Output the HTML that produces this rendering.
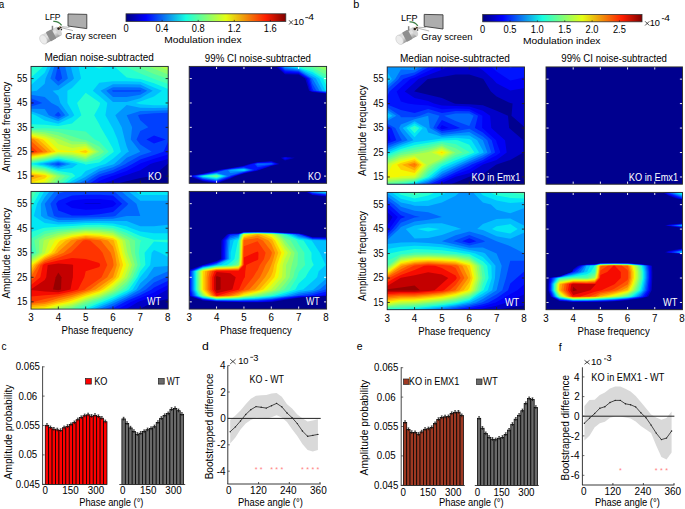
<!DOCTYPE html>
<html><head><meta charset="utf-8"><style>html,body{margin:0;padding:0;background:#fff;width:685px;height:509px;overflow:hidden}svg{display:block}</style></head><body><svg width="685" height="509" viewBox="0 0 685 509" font-family="'Liberation Sans', sans-serif"><rect width="685" height="509" fill="#fff"/><clipPath id="ha1"><rect x="31" y="66.4" width="137.2" height="116.9"/></clipPath>
<g clip-path="url(#ha1)">
<rect x="30" y="65.4" width="139.2" height="118.9" fill="#00008f"/>
<path fill="#0000c8" fill-rule="evenodd" d="M31 66.4L44.7 66.4L58.3 66.4L72 66.4L85.7 66.4L99.3 66.4L113 66.4L126.7 66.4L140.3 66.4L154 66.4L168.2 66.4L168.2 78.6L168.2 90.8L168.2 103L168.2 115.2L168.2 127.3L168.2 139.5L168.2 151.7L168.2 163.7L167.4 163.9L154 175.4L151.7 176.1L140.3 178.1L126.7 181.2L118.7 183.3L113 183.3L99.3 183.3L85.7 183.3L72 183.3L58.3 183.3L44.7 183.3L31 183.3L31 176.1L31 163.9L31 151.7L31 139.5L31 127.3L31 115.2L31 103L31 90.8L31 78.6Z"/>
<path fill="#0000f6" fill-rule="evenodd" d="M31 66.4L44.7 66.4L58.3 66.4L72 66.4L85.7 66.4L99.3 66.4L113 66.4L126.7 66.4L140.3 66.4L154 66.4L168.2 66.4L168.2 78.6L168.2 90.8L168.2 103L168.2 115.2L168.2 127.3L168.2 139.5L168.2 151.7L168.2 159.1L154 162.7L150.3 163.9L140.3 170.3L126.7 174.9L123 176.1L113 179.9L103.9 183.3L99.3 183.3L85.7 183.3L72 183.3L58.3 183.3L44.7 183.3L31 183.3L31 176.1L31 163.9L31 151.7L31 139.5L31 127.3L31 115.2L31 103L31 90.8L31 78.6Z"/>
<path fill="#0014ff" fill-rule="evenodd" d="M31 66.4L44.7 66.4L58.3 66.4L72 66.4L85.7 66.4L99.3 66.4L113 66.4L126.7 66.4L140.3 66.4L154 66.4L168.2 66.4L168.2 78.6L168.2 90.8L168.2 103L168.2 115.2L168.2 127.3L168.2 139.5L168.2 151.7L168.2 154.5L154 158.8L140.3 163.4L139.5 163.9L126.7 171L113 175.8L111.9 176.1L99.3 181.1L95.9 183.3L85.7 183.3L72 183.3L58.3 183.3L44.7 183.3L31 183.3L31 176.1L31 163.9L31 151.7L31 139.5L31 127.3L31 115.2L31 103L31 90.8L31 78.6Z"/>
<path fill="#0040ff" fill-rule="evenodd" d="M31 66.4L44.7 66.4L58.3 66.4L72 66.4L85.7 66.4L99.3 66.4L113 66.4L126.7 66.4L140.3 66.4L154 66.4L168.2 66.4L168.2 78.6L168.2 90.8L168.2 103L168.2 115.2L168.2 127.3L168.2 139.5L168.2 141.6L163.5 151.7L154 154.9L140.3 159.5L132.4 163.9L126.7 167L113 172.9L102.4 176.1L99.3 177.3L90.2 183.3L85.7 183.3L72 183.3L58.3 183.3L44.7 183.3L31 183.3L31 176.1L31 163.9L31 151.7L31 139.5L31 127.3L31 115.2L31 103.9L34.3 103L31 101.6L31 90.8L31 78.6ZM154 135.5L146.4 139.5L154 143.6L165.8 139.5Z"/>
<path fill="#0068ff" fill-rule="evenodd" d="M31 66.4L44.7 66.4L57.7 66.4L55.1 78.6L58.3 81.5L62.2 78.6L59.5 66.4L72 66.4L85.7 66.4L99.3 66.4L113 66.4L126.7 66.4L140.3 66.4L154 66.4L168.2 66.4L168.2 78.6L168.2 90.8L168.2 103L168.2 112.8L154 113.3L140.3 114.5L138 115.2L140.3 120.2L148.3 127.3L140.3 130.9L136.5 139.5L140.3 144.5L151.7 151.7L140.3 155.6L126.7 162.9L125.5 163.9L113 170.1L99.3 174.2L96.1 176.1L85.7 182.7L84.5 183.3L72 183.3L58.3 183.3L44.7 183.3L31 183.3L31 176.1L31 163.9L31 151.7L31 139.5L31 127.3L31 115.2L31 106.4L42.4 103L31 98.2L31 90.8L31 78.6ZM58.3 111.7L54.5 115.2L58.3 116.7L61.1 115.2ZM113 90.2L111.9 90.8L113 91.8L126.7 91.8L140.3 91.5L141.5 90.8L140.3 90.2L126.7 90.2ZM58.3 163.2L54.5 163.9L58.3 164.9L61.6 163.9Z"/>
<path fill="#0094ff" fill-rule="evenodd" d="M31 66.4L44.7 66.4L54.3 66.4L50.4 78.6L58.3 85.7L67.9 78.6L65.2 66.4L72 66.4L85.7 66.4L99.3 66.4L113 66.4L126.7 66.4L140.3 66.4L154 66.4L168.2 66.4L168.2 78.6L168.2 90.8L168.2 103L168.2 110.3L154 110.7L140.3 111.1L126.7 115.2L126.7 115.2L126.7 115.2L132.1 127.3L130.8 139.5L140.3 151.7L126.7 157.8L119.8 163.9L113 167.3L99.3 171.4L91.4 176.1L85.7 179.7L78.8 183.3L72 183.3L58.3 183.3L44.7 183.3L31 183.3L31 176.1L31 163.9L31 151.7L31 139.5L31 127.3L31 115.2L31 108.8L44.7 109.1L48.8 115.2L58.3 119L65.2 115.2L58.3 106.6L51.5 103L44.7 96.9L31 94.8L31 90.8L31 78.6ZM113 87.2L106.2 90.8L113 96.9L126.7 96.9L140.3 94.8L147.2 90.8L140.3 87.4L126.7 87.2ZM58.3 162.1L48.8 163.9L58.3 166.4L66.3 163.9Z"/>
<path fill="#00c0ff" fill-rule="evenodd" d="M31 66.4L44.7 66.4L51 66.4L45.6 78.6L44.7 83.7L36.7 90.8L31 91.5L31 90.8L31 78.6ZM70.9 66.4L72 66.4L85.7 66.4L99.3 66.4L113 66.4L126.7 66.4L140.3 66.4L154 66.4L168.2 66.4L168.2 78.6L168.2 90.8L168.2 103L168.2 107.7L154 108L140.3 107.7L126.7 105L115.3 115.2L121.7 127.3L124.7 139.5L126.7 146.6L128.9 151.7L126.7 152.7L114.1 163.9L113 164.5L99.3 168.5L86.6 176.1L85.7 176.7L73.1 183.3L72 183.3L58.3 183.3L44.7 183.3L31 183.3L31 176.1L31 163.9L31 151.7L31 139.5L31 127.3L31 115.2L31 111.2L42.7 115.2L44.7 116.3L58.3 121.3L69.2 115.2L60.3 103L58.3 95.9L52.6 90.8L58.3 89.9L72 80.6L74 78.6L72 71.5ZM113 84.2L100.5 90.8L113 102L126.7 102L140.3 98.2L152.8 90.8L140.3 84.6L126.7 84.2ZM44.7 163.6L42.9 163.9L44.7 164.3L58.3 167.9L71 163.9L58.3 161Z"/>
<path fill="#02e8f4" fill-rule="evenodd" d="M31 66.4L44.7 66.4L47.6 66.4L44.7 72.8L38.2 78.6L31 85L31 78.6ZM78.5 66.4L85.7 66.4L99.3 66.4L113 66.4L126.7 66.4L140.3 66.4L154 66.4L168.2 66.4L168.2 78.6L168.2 90.8L168.2 103L168.2 105.2L154 105.3L140.3 104.3L135.8 103L140.3 101.6L154 96.6L161.9 90.8L154 87.4L140.3 81.8L126.7 81.2L113 81.2L99.3 82.7L92.8 90.8L99.3 95.9L107.3 103L105.4 115.2L112.1 127.3L113 128.7L117.5 139.5L121 151.7L113 158.8L105.4 163.9L99.3 165.7L85.7 171L81.1 176.1L72 180.9L69 183.3L58.3 183.3L44.7 183.3L31 183.3L31 176.1L31 163.9L31 151.7L31 139.5L31 127.3L31 115.2L31 113.6L35.6 115.2L44.7 120.6L58.3 123.7L72 117.2L74.3 115.2L72 111.1L67.4 103L67.4 90.8L72 87.9L81.1 78.6ZM44.7 162.6L36.6 163.9L44.7 165.5L58.3 169.4L72 168L77.7 163.9L72 162.7L58.3 159.9Z"/>
<path fill="#26ffd1" fill-rule="evenodd" d="M31 66.4L43.3 66.4L31 77.4ZM92.5 66.4L99.3 66.4L106.2 66.4L99.3 68.4ZM114.4 66.4L126.7 66.4L140.3 66.4L154 66.4L168.2 66.4L168.2 78.6L168.2 89L154 83.2L140.3 78.9L133.5 78.6L126.7 77.4ZM77.1 103L85.7 92.8L99.3 102.2L100.2 103L99.3 106L94.2 115.2L99.3 124.3L100.7 127.3L107.9 139.5L113 148.7L113.8 151.7L113 152.5L99.3 162.6L89.1 163.9L85.7 164.7L84.8 163.9L72 161.1L58.3 158.8L44.7 161.6L31 163.8L31 151.7L31 139.5L31 127.3L31 124.3L44.7 124.8L58.3 126L72 123.5L81.4 115.2ZM31 176.1L31 164.1L44.7 166.7L58.3 170.9L72 173.1L75.4 176.1L72 177.9L65.2 183.3L58.3 183.3L44.7 183.3L31 183.3Z"/>
<path fill="#49ffad" fill-rule="evenodd" d="M31 66.4L31.9 66.4L31 67.2ZM125.7 66.4L126.7 66.4L140.3 66.4L154 66.4L168.2 66.4L168.2 78.6L168.2 83.9L154 78.9L152.8 78.6L140.3 73.6L126.7 67.2ZM31 139.5L31 128.5L44.7 128.2L58.3 128.7L72 129.9L85.7 131.4L94.8 139.5L99.3 141.6L108.8 151.7L99.3 159L85.7 162.5L72 159.6L58.3 157.6L44.7 160.6L31 162.8L31 151.7ZM31 176.1L31 165.4L44.7 167.9L58.3 172.4L70.1 176.1L61.4 183.3L58.3 183.3L44.7 183.3L31 183.3Z"/>
<path fill="#6aff8d" fill-rule="evenodd" d="M137.1 66.4L140.3 66.4L154 66.4L168.2 66.4L168.2 78.6L168.2 78.8L167.6 78.6L154 73.9L140.3 68ZM31 139.5L31 129.7L44.7 130.2L58.3 132.1L72 136.2L81.9 139.5L85.7 139.9L99.3 146.6L104.1 151.7L99.3 155.4L85.7 160.9L72 158.1L58.3 156.5L44.7 159.6L31 161.8L31 151.7ZM31 176.1L31 166.7L44.7 169.1L58.3 173.9L65.4 176.1L58.3 182.4L57.6 183.3L44.7 183.3L31 183.3Z"/>
<path fill="#8dff6a" fill-rule="evenodd" d="M148.5 66.4L154 66.4L168.2 66.4L168.2 74.5L154 68.8ZM31 139.5L31 131L44.7 132.2L58.3 135.5L68.1 139.5L72 141.2L85.7 142L99.3 151.7L85.7 159.3L72 156.5L58.3 155.4L44.7 158.6L31 160.8L31 151.7ZM31 176.1L31 168L44.7 170.3L58.3 175.4L60.6 176.1L58.3 178.2L53.8 183.3L44.7 183.3L31 183.3Z"/>
<path fill="#b1ff46" fill-rule="evenodd" d="M159.1 66.4L168.2 66.4L168.2 70.3ZM31 139.5L31 132.3L44.7 134.3L58.3 138.9L60 139.5L72 144.6L85.7 144L96.5 151.7L85.7 157.8L72 155L58.3 154.3L44.7 157.5L31 159.8L31 151.7ZM31 176.1L31 169.3L44.7 171.5L56.7 176.1L50 183.3L44.7 183.3L31 183.3Z"/>
<path fill="#d1ff26" fill-rule="evenodd" d="M31 139.5L31 133.5L44.7 136.3L53.8 139.5L58.3 144.1L72 147.9L85.7 146L93.6 151.7L85.7 156.2L72 153.5L58.3 153.2L44.7 156.5L31 158.8L31 151.7ZM31 176.1L31 170.6L44.7 172.7L53.5 176.1L46.2 183.3L44.7 183.3L31 183.3Z"/>
<path fill="#f4f802" fill-rule="evenodd" d="M31 139.5L31 134.8L44.7 138.3L48.1 139.5L58.3 149.7L72 151.3L85.7 148.1L90.8 151.7L85.7 154.6L72 151.9L58.3 152.1L44.7 155.5L31 157.8L31 151.7ZM31 176.1L31 171.9L44.7 173.9L50.4 176.1L44.7 181.5L39 183.3L31 183.3Z"/>
<path fill="#ffd000" fill-rule="evenodd" d="M31 139.5L31 136.1L42.9 139.5L44.7 141.1L55.7 151.7L44.7 154.5L31 156.8L31 151.7ZM79.2 151.7L85.7 150.1L87.9 151.7L85.7 153ZM31 176.1L31 173.2L44.7 175.1L47.2 176.1L44.7 178.5L31 182.8Z"/>
<path fill="#ffab00" fill-rule="evenodd" d="M31 139.5L31 137.4L38.5 139.5L44.7 145L51.7 151.7L44.7 153.5L31 155.8L31 151.7ZM31 176.1L31 174.5L42.8 176.1L31 179.8Z"/>
<path fill="#ff8200" fill-rule="evenodd" d="M31 139.5L31 138.6L34.2 139.5L44.7 148.9L47.6 151.7L44.7 152.5L31 154.8L31 151.7ZM31 176.1L31 175.8L33.3 176.1L31 176.8Z"/>
<path fill="#ff5900" fill-rule="evenodd" d="M31 151.7L31 141L43.1 151.7L31 153.8Z"/>
<path fill="#ff3400" fill-rule="evenodd" d="M31 151.7L31 146L37.4 151.7L31 152.8Z"/>
<path fill="#f60b00" fill-rule="evenodd" d="M31 151.7L31 151.1L31.7 151.7L31 151.8Z"/>
</g>
<line x1="58.33" y1="183.30" x2="58.33" y2="180.70" stroke="#222" stroke-width="0.9"/>
<line x1="58.33" y1="66.40" x2="58.33" y2="69.00" stroke="#222" stroke-width="0.9"/>
<line x1="85.66" y1="183.30" x2="85.66" y2="180.70" stroke="#222" stroke-width="0.9"/>
<line x1="85.66" y1="66.40" x2="85.66" y2="69.00" stroke="#222" stroke-width="0.9"/>
<line x1="112.99" y1="183.30" x2="112.99" y2="180.70" stroke="#222" stroke-width="0.9"/>
<line x1="112.99" y1="66.40" x2="112.99" y2="69.00" stroke="#222" stroke-width="0.9"/>
<line x1="140.32" y1="183.30" x2="140.32" y2="180.70" stroke="#222" stroke-width="0.9"/>
<line x1="140.32" y1="66.40" x2="140.32" y2="69.00" stroke="#222" stroke-width="0.9"/>
<line x1="31.00" y1="176.11" x2="33.60" y2="176.11" stroke="#222" stroke-width="0.9"/>
<line x1="168.20" y1="176.11" x2="165.60" y2="176.11" stroke="#222" stroke-width="0.9"/>
<line x1="31.00" y1="151.73" x2="33.60" y2="151.73" stroke="#222" stroke-width="0.9"/>
<line x1="168.20" y1="151.73" x2="165.60" y2="151.73" stroke="#222" stroke-width="0.9"/>
<line x1="31.00" y1="127.35" x2="33.60" y2="127.35" stroke="#222" stroke-width="0.9"/>
<line x1="168.20" y1="127.35" x2="165.60" y2="127.35" stroke="#222" stroke-width="0.9"/>
<line x1="31.00" y1="102.97" x2="33.60" y2="102.97" stroke="#222" stroke-width="0.9"/>
<line x1="168.20" y1="102.97" x2="165.60" y2="102.97" stroke="#222" stroke-width="0.9"/>
<line x1="31.00" y1="78.59" x2="33.60" y2="78.59" stroke="#222" stroke-width="0.9"/>
<line x1="168.20" y1="78.59" x2="165.60" y2="78.59" stroke="#222" stroke-width="0.9"/>
<rect x="31.00" y="66.40" width="137.20" height="116.90" fill="none" stroke="#2a2a2a" stroke-width="0.9"/>
<text x="148.04" y="179.60" font-size="10" textLength="13.41" lengthAdjust="spacingAndGlyphs" fill="#fff">KO</text>
<clipPath id="ha2"><rect x="189.2" y="66.4" width="137.4" height="116.9"/></clipPath>
<g clip-path="url(#ha2)">
<rect x="188.2" y="65.4" width="139.4" height="118.9" fill="#00008f"/>
<path fill="#0000c8" fill-rule="evenodd" d="M276.2 66.4L285 66.4L298.7 66.4L312.4 66.4L326.6 66.4L326.6 78.6L326.6 90.8L326.6 93.6L312.4 91.9L309.1 90.8L305.2 78.6L298.7 74.5L285 74.3ZM280.8 157.8L285 157.2L294.9 157.8L285 160.5ZM249.5 163.9L257.6 162.2L271.3 161.1L279.5 163.9L271.3 165.9L259.2 170L257.6 170.6L243.9 173.6L235.7 176.1L230.3 178.4L216.9 183.3L216.6 183.3L215.8 183.3L202.9 181.2L189.2 176.2L189.2 176.1L189.2 176.1L202.9 173.8L216.6 170.5L218.5 170L230.3 168.3L243.9 165.7Z"/>
<path fill="#0000f6" fill-rule="evenodd" d="M277.6 66.4L285 66.4L298.7 66.4L312.4 66.4L326.6 66.4L326.6 78.6L326.6 90.8L326.6 93.2L312.4 91.5L310.3 90.8L306.7 78.6L298.7 73.6L285 73ZM282.4 157.8L285 157.5L291.1 157.8L285 159.4ZM251.1 163.9L257.6 162.6L271.3 161.7L277.8 163.9L271.3 165.5L258.1 170L257.6 170.2L243.9 173.1L234.2 176.1L230.3 177.8L216.6 182.8L202.9 180.6L190.6 176.1L202.9 174.1L216.6 171L220.4 170L230.3 168.5L243.9 166.2Z"/>
<path fill="#0014ff" fill-rule="evenodd" d="M279 66.4L285 66.4L298.7 66.4L312.4 66.4L326.6 66.4L326.6 78.6L326.6 90.8L326.6 92.8L312.4 91L311.6 90.8L308.1 78.6L298.7 72.7L285 71.7ZM284 157.8L285 157.7L287.3 157.8L285 158.4ZM252.7 163.9L257.6 162.9L271.3 162.2L276.2 163.9L271.3 165.1L257.6 169L256.4 170L243.9 172.7L232.8 176.1L230.3 177.2L216.6 182.1L202.9 179.9L192.3 176.1L202.9 174.3L216.6 171.5L222.3 170L230.3 168.8L243.9 166.8Z"/>
<path fill="#0040ff" fill-rule="evenodd" d="M280.4 66.4L285 66.4L298.7 66.4L312.4 66.4L326.6 66.4L326.6 78.6L326.6 90.8L326.6 92.4L313.6 90.8L312.4 88.7L309.5 78.6L298.7 71.8L285 70.5ZM254.4 163.9L257.6 163.2L271.3 162.8L274.6 163.9L271.3 164.7L257.6 167.3ZM224.2 170L230.3 169.1L243.9 167.3L254.4 170L243.9 172.3L231.4 176.1L230.3 176.6L216.6 181.4L202.9 179.3L194 176.1L202.9 174.6L216.6 172Z"/>
<path fill="#0068ff" fill-rule="evenodd" d="M281.9 66.4L285 66.4L298.7 66.4L312.4 66.4L326.6 66.4L326.6 78.6L326.6 90.8L326.6 92.1L316.5 90.8L312.4 83.7L310.9 78.6L298.7 70.9L285 69.2ZM256 163.9L257.6 163.6L271.3 163.4L272.9 163.9L271.3 164.3L257.6 165.6ZM226.1 170L230.3 169.4L243.9 167.8L252.3 170L243.9 171.8L230.3 175.6L229.9 176.1L216.6 180.8L202.9 178.7L195.8 176.1L202.9 174.9L216.6 172.6Z"/>
<path fill="#0094ff" fill-rule="evenodd" d="M283.3 66.4L285 66.4L298.7 66.4L312.4 66.4L326.6 66.4L326.6 78.6L326.6 90.8L326.6 91.7L319.5 90.8L312.4 78.6L312.4 78.6L298.7 70L285 67.9ZM228 170L230.3 169.7L243.9 168.4L250.3 170L243.9 171.4L230.3 173.1ZM197.5 176.1L202.9 175.2L216.6 173.1L228 176.1L216.6 180.1L202.9 178.1Z"/>
<path fill="#00c0ff" fill-rule="evenodd" d="M284.7 66.4L285 66.4L298.7 66.4L312.4 66.4L326.6 66.4L326.6 78.6L326.6 90.8L326.6 91.3L322.4 90.8L315.9 78.6L312.4 76.4L298.7 69.1L285 66.7ZM229.9 170L230.3 170L243.9 168.9L248.3 170L243.9 170.9L230.3 170.5ZM199.2 176.1L202.9 175.5L216.6 173.6L226.1 176.1L216.6 179.4L202.9 177.4Z"/>
<path fill="#02e8f4" fill-rule="evenodd" d="M288.8 66.4L298.7 66.4L312.4 66.4L326.6 66.4L326.6 78.6L326.6 90.8L326.6 90.9L325.4 90.8L319.3 78.6L312.4 74.2L298.7 68.3ZM236 170L243.9 169.4L246.2 170L243.9 170.5ZM200.9 176.1L202.9 175.8L216.6 174.1L224.2 176.1L216.6 178.8L202.9 176.8Z"/>
<path fill="#26ffd1" fill-rule="evenodd" d="M293.6 66.4L298.7 66.4L312.4 66.4L326.6 66.4L326.6 78.6L326.6 86.4L322.8 78.6L312.4 72L298.7 67.4ZM243.1 170L243.9 169.9L244.2 170L243.9 170.1ZM202.7 176.1L202.9 176.1L216.6 174.6L222.3 176.1L216.6 178.1L202.9 176.2Z"/>
<path fill="#49ffad" fill-rule="evenodd" d="M298.3 66.4L298.7 66.4L312.4 66.4L326.6 66.4L326.6 78.6L326.6 79.2L326.3 78.6L312.4 69.8L298.7 66.5ZM207.1 176.1L216.6 175.1L220.4 176.1L216.6 177.4Z"/>
<path fill="#6aff8d" fill-rule="evenodd" d="M307.4 66.4L312.4 66.4L326.6 66.4L326.6 75L312.4 67.5ZM211.8 176.1L216.6 175.6L218.5 176.1L216.6 176.8Z"/>
<path fill="#8dff6a" fill-rule="evenodd" d="M316.4 66.4L326.6 66.4L326.6 71.1Z"/>
<path fill="#b1ff46" fill-rule="evenodd" d="M324.9 66.4L326.6 66.4L326.6 67.2Z"/>
</g>
<line x1="216.57" y1="183.30" x2="216.57" y2="180.70" stroke="#fff" stroke-width="0.9"/>
<line x1="216.57" y1="66.40" x2="216.57" y2="69.00" stroke="#fff" stroke-width="0.9"/>
<line x1="243.94" y1="183.30" x2="243.94" y2="180.70" stroke="#fff" stroke-width="0.9"/>
<line x1="243.94" y1="66.40" x2="243.94" y2="69.00" stroke="#fff" stroke-width="0.9"/>
<line x1="271.31" y1="183.30" x2="271.31" y2="180.70" stroke="#fff" stroke-width="0.9"/>
<line x1="271.31" y1="66.40" x2="271.31" y2="69.00" stroke="#fff" stroke-width="0.9"/>
<line x1="298.68" y1="183.30" x2="298.68" y2="180.70" stroke="#fff" stroke-width="0.9"/>
<line x1="298.68" y1="66.40" x2="298.68" y2="69.00" stroke="#fff" stroke-width="0.9"/>
<line x1="189.20" y1="176.11" x2="191.80" y2="176.11" stroke="#fff" stroke-width="0.9"/>
<line x1="326.60" y1="176.11" x2="324.00" y2="176.11" stroke="#fff" stroke-width="0.9"/>
<line x1="189.20" y1="151.73" x2="191.80" y2="151.73" stroke="#fff" stroke-width="0.9"/>
<line x1="326.60" y1="151.73" x2="324.00" y2="151.73" stroke="#fff" stroke-width="0.9"/>
<line x1="189.20" y1="127.35" x2="191.80" y2="127.35" stroke="#fff" stroke-width="0.9"/>
<line x1="326.60" y1="127.35" x2="324.00" y2="127.35" stroke="#fff" stroke-width="0.9"/>
<line x1="189.20" y1="102.97" x2="191.80" y2="102.97" stroke="#fff" stroke-width="0.9"/>
<line x1="326.60" y1="102.97" x2="324.00" y2="102.97" stroke="#fff" stroke-width="0.9"/>
<line x1="189.20" y1="78.59" x2="191.80" y2="78.59" stroke="#fff" stroke-width="0.9"/>
<line x1="326.60" y1="78.59" x2="324.00" y2="78.59" stroke="#fff" stroke-width="0.9"/>
<rect x="189.20" y="66.40" width="137.40" height="116.90" fill="none" stroke="#2a2a2a" stroke-width="0.9"/>
<text x="307.97" y="180.40" font-size="10" textLength="12.86" lengthAdjust="spacingAndGlyphs" fill="#fff">KO</text>
<clipPath id="ha3"><rect x="31" y="191.4" width="137.2" height="117.7"/></clipPath>
<g clip-path="url(#ha3)">
<rect x="30" y="190.4" width="139.2" height="119.7" fill="#00008f"/>
<path fill="#0000c8" fill-rule="evenodd" d="M31 191.4L44.7 191.4L58.3 191.4L72 191.4L85.7 191.4L99.3 191.4L113 191.4L126.7 191.4L140.3 191.4L154 191.4L168.2 191.4L168.2 203.7L168.2 215.9L168.2 228.2L168.2 240.5L168.2 252.8L168.2 265L168.2 277.3L168.2 289.6L168.2 299L154 301.7L153.2 301.9L140.3 308.7L139.8 309.1L126.7 309.1L113 309.1L99.3 309.1L85.7 309.1L72 309.1L58.3 309.1L44.7 309.1L31 309.1L31 301.9L31 289.6L31 277.3L31 265L31 252.8L31 240.5L31 228.2L31 215.9L31 203.7Z"/>
<path fill="#0000f6" fill-rule="evenodd" d="M31 191.4L44.7 191.4L58.3 191.4L72 191.4L85.7 191.4L99.3 191.4L113 191.4L126.7 191.4L140.3 191.4L154 191.4L168.2 191.4L168.2 203.7L168.2 215.9L168.2 228.2L168.2 240.5L168.2 252.8L168.2 265L168.2 277.3L168.2 289.2L167.5 289.6L154 297L140.3 300.9L138 301.9L126.7 308.8L126 309.1L113 309.1L99.3 309.1L85.7 309.1L72 309.1L58.3 309.1L44.7 309.1L31 309.1L31 301.9L31 289.6L31 277.3L31 265L31 252.8L31 240.5L31 228.2L31 215.9L31 203.7ZM85.7 203.3L83.4 203.7L85.7 204.1L99.3 204.1L101.6 203.7L99.3 203.3Z"/>
<path fill="#0014ff" fill-rule="evenodd" d="M31 191.4L44.7 191.4L58.3 191.4L72 191.4L85.7 191.4L99.3 191.4L113 191.4L126.7 191.4L140.3 191.4L154 191.4L168.2 191.4L168.2 203.7L168.2 215.9L168.2 228.2L168.2 240.5L168.2 252.8L168.2 265L168.2 277.3L168.2 285L159.1 289.6L154 292.4L140.3 298.1L130.9 301.9L126.7 304.4L117.9 309.1L113 309.1L99.3 309.1L85.7 309.1L72 309.1L58.3 309.1L44.7 309.1L31 309.1L31 301.9L31 289.6L31 277.3L31 265L31 252.8L31 240.5L31 228.2L31 215.9L31 203.7ZM72 200.6L65.2 203.7L72 208.1L85.7 209.8L99.3 209.2L113 206.7L116.4 203.7L113 200.6L99.3 199.1L85.7 199.1Z"/>
<path fill="#0040ff" fill-rule="evenodd" d="M31 191.4L44.7 191.4L58.3 191.4L72 191.4L85.7 191.4L99.3 191.4L113 191.4L126.7 191.4L140.3 191.4L154 191.4L168.2 191.4L168.2 203.7L168.2 215.9L168.2 228.2L168.2 240.5L168.2 252.8L168.2 265L168.2 277.3L168.2 280.7L154 287.5L151.7 289.6L140.3 295.3L126.7 301L124.9 301.9L113 308.2L110.7 309.1L99.3 309.1L85.7 309.1L72 309.1L58.3 309.1L44.7 309.1L31 309.1L31 301.9L31 289.6L31 277.3L31 265L31 252.8L31 240.5L31 228.2L31 215.9L31 203.7ZM58.3 200.8L56.1 203.7L58.3 210.5L72 215.4L85.7 215.5L99.3 214.3L113 211.9L122.1 203.7L113 195.5L99.3 194.8L85.7 194.8L72 195.5Z"/>
<path fill="#0068ff" fill-rule="evenodd" d="M31 191.4L44.7 191.4L58.3 191.4L66.3 191.4L58.3 193.4L50.4 203.7L54 215.9L58.3 217.5L72 217.8L85.7 217.6L99.3 217.2L113 216.4L115.3 215.9L126.7 205.7L128.3 203.7L126.7 202.4L114.4 191.4L126.7 191.4L140.3 191.4L154 191.4L168.2 191.4L168.2 203.7L168.2 215.9L168.2 228.2L168.2 240.5L168.2 252.8L168.2 265L168.2 276.3L165.8 277.3L154 282.4L146 289.6L140.3 292.4L126.7 299L120.5 301.9L113 305.9L105 309.1L99.3 309.1L85.7 309.1L72 309.1L58.3 309.1L44.7 309.1L31 309.1L31 301.9L31 289.6L31 277.3L31 265L31 252.8L31 240.5L31 228.2L31 215.9L31 203.7Z"/>
<path fill="#0094ff" fill-rule="evenodd" d="M31 191.4L44.7 191.4L54.6 191.4L44.7 203.7L44.7 203.7L44.7 203.7L47.7 215.9L58.3 219.9L72 219.9L85.7 219.5L99.3 219.1L113 218.7L126.7 215.9L140.3 215.9L154 215.9L154 215.9L154 215.9L140.3 215.9L136.4 203.7L126.7 196L121.5 191.4L126.7 191.4L140.3 191.4L154 191.4L168.2 191.4L168.2 203.7L168.2 215.9L168.2 228.2L168.2 240.5L168.2 252.8L168.2 265L168.2 271.2L154 277.3L154 277.3L140.3 289.6L140.3 289.6L126.7 296.9L116.1 301.9L113 303.5L99.3 309.1L99.3 309.1L85.7 309.1L72 309.1L58.3 309.1L44.7 309.1L31 309.1L31 301.9L31 289.6L31 277.3L31 265L31 252.8L31 240.5L31 228.2L31 215.9L31 203.7Z"/>
<path fill="#00c0ff" fill-rule="evenodd" d="M31 191.4L44.7 191.4L49.4 191.4L44.7 197.3L40.9 203.7L41 215.9L44.7 218.4L58.3 222.2L72 221.9L85.7 221.3L99.3 221L113 221.1L126.7 221.1L140.3 226.2L154 226.2L168.2 224.8L168.2 228.2L168.2 240.5L168.2 252.8L168.2 265L168.2 266.1L154 267.1L146.9 277.3L140.3 283.2L136.5 289.6L126.7 294.9L113 301.3L111.7 301.9L99.3 307.1L94.6 309.1L85.7 309.1L72 309.1L58.3 309.1L44.7 309.1L31 309.1L31 301.9L31 289.6L31 277.3L31 265L31 252.8L31 240.5L31 228.2L31 215.9L31 203.7ZM128.7 191.4L140.3 191.4L154 191.4L168.2 191.4L168.2 200.7L154 200.7L140.3 200.7Z"/>
<path fill="#02e8f4" fill-rule="evenodd" d="M31 191.4L44.3 191.4L37.1 203.7L33.8 215.9L44.7 223L58.3 224.5L72 224L85.7 223.1L99.3 222.9L113 223.4L126.7 226.2L131.2 228.2L140.3 231.6L154 233.3L168.2 233.3L168.2 240.5L168.2 252.8L168.2 256.9L160.3 252.8L154 250L151.7 252.8L150.2 265L140.3 276.9L140.1 277.3L132.7 289.6L126.7 292.9L113 299.4L106.9 301.9L99.3 305.1L89.8 309.1L85.7 309.1L72 309.1L58.3 309.1L44.7 309.1L31 309.1L31 301.9L31 289.6L31 277.3L31 265L31 252.8L31 240.5L31 228.2L31 215.9L31 203.7ZM135.8 191.4L140.3 191.4L154 191.4L168.2 191.4L168.2 195L154 195L140.3 195Z"/>
<path fill="#26ffd1" fill-rule="evenodd" d="M31 191.4L40.3 191.4L33.3 203.7L31 209.8L31 203.7ZM42.4 228.2L44.7 227.7L58.3 226.8L72 226L85.7 224.9L99.3 224.8L113 225.7L121.8 228.2L126.7 230L140.3 235.9L154 239.7L168.2 239.7L168.2 240.5L168.2 242.5L154 241.5L144.6 252.8L145.4 265L140.3 271.2L137.5 277.3L128.9 289.6L126.7 290.8L113 297.5L102.2 301.9L99.3 303.1L85.7 308.8L84.8 309.1L72 309.1L58.3 309.1L44.7 309.1L31 309.1L31 301.9L31 289.6L31 277.3L31 265L31 252.8L31 240.5L31 232.1Z"/>
<path fill="#49ffad" fill-rule="evenodd" d="M31 191.4L36.2 191.4L31 200.8ZM69.7 228.2L72 228.1L85.7 226.8L99.3 226.7L113 228L113.6 228.2L126.7 233L140.3 240.2L141.5 240.5L140.3 242.5L138.8 252.8L140.3 263L140.7 265L140.3 265.5L134.9 277.3L126.7 288.2L125.1 289.6L113 295.6L99.3 301.2L97 301.9L85.7 306.5L77.7 309.1L72 309.1L58.3 309.1L44.7 309.1L31 309.1L31 301.9L31 289.6L31 277.3L31 265L31 254.4L33.5 252.8L31 243.8L31 240.5L31 238.4L44.7 230.9L58.3 229Z"/>
<path fill="#6aff8d" fill-rule="evenodd" d="M31 191.4L32.1 191.4L31 193.4ZM34.2 240.5L44.7 233.9L58.3 231.1L72 229.6L85.7 228.5L99.3 228.5L113 229.8L126.7 236L135.1 240.5L135 252.8L137.7 265L132.4 277.3L126.7 284.8L121.3 289.6L113 293.8L99.3 299.6L91.4 301.9L85.7 304.2L72 308.8L70.4 309.1L58.3 309.1L44.7 309.1L31 309.1L31 301.9L31 289.6L31 277.3L31 265L31 256.3L36.4 252.8Z"/>
<path fill="#8dff6a" fill-rule="evenodd" d="M39 240.5L44.7 236.9L58.3 233.1L72 231.1L85.7 229.8L99.3 230L113 231.5L126.7 239L129.4 240.5L131.2 252.8L134.9 265L129.8 277.3L126.7 281.4L117.5 289.6L113 291.9L99.3 298L85.7 301.9L85.7 301.9L72 307.2L62.2 309.1L58.3 309.1L44.7 309.1L31 309.1L31 301.9L31 289.6L31 277.3L31 265L31 258.2L39.2 252.8Z"/>
<path fill="#b1ff46" fill-rule="evenodd" d="M43.7 240.5L44.7 239.9L58.3 235.2L72 232.6L85.7 231L99.3 231.4L113 233.2L125.2 240.5L126.7 249.4L127.4 252.8L132 265L127.2 277.3L126.7 278L113.8 289.6L113 290L99.3 296.4L85.7 300.3L81.6 301.9L72 305.6L58.3 308.3L55.6 309.1L44.7 309.1L31 309.1L31 301.9L31 289.6L31 277.3L31 265L31 260.1L42 252.8Z"/>
<path fill="#d1ff26" fill-rule="evenodd" d="M49.2 240.5L58.3 237.2L72 234.1L85.7 232.3L99.3 232.9L113 234.9L122.3 240.5L124.7 252.8L126.7 258.6L129.2 265L126.7 271.5L124.4 277.3L113 287.5L110.3 289.6L99.3 294.8L85.7 298.8L77.5 301.9L72 304L58.3 306.8L50.5 309.1L44.7 309.1L31 309.1L31 301.9L31 289.6L31 277.3L31 265L31 262L44.7 252.9L44.9 252.8Z"/>
<path fill="#f4f802" fill-rule="evenodd" d="M54.9 240.5L58.3 239.3L72 235.6L85.7 233.6L99.3 234.4L113 236.6L119.5 240.5L122.2 252.8L126.3 265L121.5 277.3L113 285L107 289.6L99.3 293.2L85.7 297.2L73.5 301.9L72 302.4L58.3 305.3L45.3 309.1L44.7 309.1L31 309.1L31 301.9L31 289.6L31 277.3L31 265L31 263.9L44.7 254.4L48.1 252.8Z"/>
<path fill="#ffd000" fill-rule="evenodd" d="M60.4 240.5L72 237.1L85.7 234.9L99.3 235.8L113 238.3L116.6 240.5L119.7 252.8L123.1 265L118.7 277.3L113 282.4L103.6 289.6L99.3 291.6L85.7 295.7L72 300.6L67.4 301.9L58.3 303.8L44.7 307.5L31 308.5L31 301.9L31 289.6L31 277.3L31 266.4L31.9 265L44.7 256L51.2 252.8L58.3 242.4Z"/>
<path fill="#ffab00" fill-rule="evenodd" d="M65.6 240.5L72 238.6L85.7 236.1L99.3 237.3L113 240L113.8 240.5L117.3 252.8L120 265L115.8 277.3L113 279.9L100.3 289.6L99.3 290L85.7 294.1L72 298.8L60.3 301.9L58.3 302.3L44.7 305.8L31 306.9L31 301.9L31 289.6L31 277.3L31 269.8L34.1 265L44.7 257.5L54.4 252.8L58.3 247Z"/>
<path fill="#ff8200" fill-rule="evenodd" d="M70.8 240.5L72 240.1L85.7 237.4L99.3 238.7L107.9 240.5L113 246.6L114.8 252.8L116.8 265L113 277.3L113 277.3L99.3 286.8L95.6 289.6L85.7 292.6L72 296.9L58.3 300.4L53.2 301.9L44.7 304L31 305.3L31 301.9L31 289.6L31 277.3L31 273.2L36.3 265L44.7 259.1L57.6 252.8L58.3 251.7Z"/>
<path fill="#ff5900" fill-rule="evenodd" d="M76.8 240.5L85.7 238.7L99.3 240.2L100.8 240.5L110.7 252.8L113 259.9L113.6 265L113 267.1L107.3 277.3L99.3 282.8L90.4 289.6L85.7 291L72 295L58.3 298.3L46.1 301.9L44.7 302.2L31 303.7L31 301.9L31 289.6L31 277.3L31 276.6L38.4 265L44.7 260.6L58.3 254.9L63.7 252.8L72 245.4Z"/>
<path fill="#ff3400" fill-rule="evenodd" d="M83.1 240.5L85.7 240L90.2 240.5L99.3 248.7L102.6 252.8L107.3 265L101.6 277.3L99.3 278.9L85.7 288.6L85.1 289.6L72 293.1L58.3 296.3L44.7 298.9L33.3 301.9L31 302.1L31 301.9L31 289.6L31 280.7L35.1 277.3L40.6 265L44.7 262.2L58.3 257.8L70.9 252.8L72 251.7Z"/>
<path fill="#f60b00" fill-rule="evenodd" d="M42.8 265L44.7 263.7L58.3 260.6L72 258.1L85.7 258.9L99.3 263L100.2 265L99.3 267.1L85.7 271.2L84.3 277.3L78 289.6L72 291.2L58.3 294.2L44.7 295.3L31 296.5L31 289.6L31 285L40.3 277.3Z"/>
<path fill="#c40000" fill-rule="evenodd" d="M47.7 265L58.3 263.4L72 264.5L73.1 265L72.9 277.3L72 281.4L70.5 289.6L58.3 292.2L44.7 291.6L31 290.1L31 289.6L31 289.2L44.7 280L46.2 277.3Z"/>
<path fill="#960000" fill-rule="evenodd" d="M55.7 277.3L58.3 272.5L61.5 277.3L61 289.6L58.3 290.2L53 289.6Z"/>
</g>
<line x1="58.33" y1="309.10" x2="58.33" y2="306.50" stroke="#222" stroke-width="0.9"/>
<line x1="58.33" y1="191.40" x2="58.33" y2="194.00" stroke="#222" stroke-width="0.9"/>
<line x1="85.66" y1="309.10" x2="85.66" y2="306.50" stroke="#222" stroke-width="0.9"/>
<line x1="85.66" y1="191.40" x2="85.66" y2="194.00" stroke="#222" stroke-width="0.9"/>
<line x1="112.99" y1="309.10" x2="112.99" y2="306.50" stroke="#222" stroke-width="0.9"/>
<line x1="112.99" y1="191.40" x2="112.99" y2="194.00" stroke="#222" stroke-width="0.9"/>
<line x1="140.32" y1="309.10" x2="140.32" y2="306.50" stroke="#222" stroke-width="0.9"/>
<line x1="140.32" y1="191.40" x2="140.32" y2="194.00" stroke="#222" stroke-width="0.9"/>
<line x1="31.00" y1="301.86" x2="33.60" y2="301.86" stroke="#222" stroke-width="0.9"/>
<line x1="168.20" y1="301.86" x2="165.60" y2="301.86" stroke="#222" stroke-width="0.9"/>
<line x1="31.00" y1="277.31" x2="33.60" y2="277.31" stroke="#222" stroke-width="0.9"/>
<line x1="168.20" y1="277.31" x2="165.60" y2="277.31" stroke="#222" stroke-width="0.9"/>
<line x1="31.00" y1="252.77" x2="33.60" y2="252.77" stroke="#222" stroke-width="0.9"/>
<line x1="168.20" y1="252.77" x2="165.60" y2="252.77" stroke="#222" stroke-width="0.9"/>
<line x1="31.00" y1="228.22" x2="33.60" y2="228.22" stroke="#222" stroke-width="0.9"/>
<line x1="168.20" y1="228.22" x2="165.60" y2="228.22" stroke="#222" stroke-width="0.9"/>
<line x1="31.00" y1="203.67" x2="33.60" y2="203.67" stroke="#222" stroke-width="0.9"/>
<line x1="168.20" y1="203.67" x2="165.60" y2="203.67" stroke="#222" stroke-width="0.9"/>
<rect x="31.00" y="191.40" width="137.20" height="117.70" fill="none" stroke="#2a2a2a" stroke-width="0.9"/>
<text x="146.96" y="305.20" font-size="10" textLength="13.95" lengthAdjust="spacingAndGlyphs" fill="#fff">WT</text>
<clipPath id="ha4"><rect x="189.2" y="191.4" width="137.4" height="117.7"/></clipPath>
<g clip-path="url(#ha4)">
<rect x="188.2" y="190.4" width="139.4" height="119.7" fill="#00008f"/>
<path fill="#0000c8" fill-rule="evenodd" d="M305.3 191.4L312.4 191.4L326.6 191.4L326.6 196.4L312.4 194.9ZM227 234.4L230.3 233.8L238.5 233.5L243.9 232.2L257.6 231.9L271.3 232.2L285 232.8L298.7 233.5L304.1 234.4L312.4 237.2L326.6 237.3L326.6 240.5L326.6 252.8L326.6 258.9L326.6 265L326.6 271.2L326.6 277.3L326.6 289.6L326.6 295.7L326.6 296L312.4 296.3L298.7 297.7L285 299.7L272.1 301.9L271.3 301.9L257.6 302.2L243.9 302.2L238.5 302.1L230.3 301.9L228 301.9L216.6 301.6L202.9 300.4L189.2 295.9L189.2 295.7L189.2 289.6L189.2 277.3L189.2 271.2L189.2 270L202.4 265L202.9 265L216.6 261.1L221.1 258.9L221.1 252.8L221.4 240.5Z"/>
<path fill="#0000f6" fill-rule="evenodd" d="M306.4 191.4L312.4 191.4L326.6 191.4L326.6 195.9L312.4 194.4ZM228.2 234.4L230.3 234L238.5 233.8L243.9 232.3L257.6 232.1L271.3 232.3L285 233L298.7 233.8L302.7 234.4L312.4 237.6L326.6 237.8L326.6 240.5L326.6 252.8L326.6 258.9L326.6 265L326.6 271.2L326.6 277.3L326.6 289.6L326.6 295.7L326.6 295.8L312.4 296.1L298.7 297.2L285 299L271.3 301.3L262.2 301.9L257.6 302L243.9 302L239.4 301.9L238.5 301.8L230.3 301.6L216.6 301.3L202.9 300L190.2 295.7L189.2 291.6L189.2 289.6L189.2 277.3L189.2 271.2L189.2 270.8L202.9 265.4L204.7 265L216.6 261.7L222.4 258.9L222.4 252.8L222.8 240.5Z"/>
<path fill="#0014ff" fill-rule="evenodd" d="M307.6 191.4L312.4 191.4L326.6 191.4L326.6 195.3L312.4 193.8ZM229.5 234.4L230.3 234.2L238.5 234L243.9 232.5L257.6 232.2L271.3 232.5L285 233.2L298.7 234L301.2 234.4L312.4 238.1L326.6 238.3L326.6 240.5L326.6 252.8L326.6 258.9L326.6 265L326.6 271.2L326.6 277.3L326.6 289.6L326.6 294.2L319.5 295.7L312.4 295.9L298.7 296.6L285 298.4L271.3 300.5L257.6 301.5L243.9 301.6L238.5 301.4L230.3 301.2L216.6 301L202.9 299.6L191.5 295.7L189.8 289.6L189.8 277.3L189.8 271.2L202.9 265.8L207 265L216.6 262.4L223.7 258.9L223.7 252.8L224.3 240.5Z"/>
<path fill="#0040ff" fill-rule="evenodd" d="M308.7 191.4L312.4 191.4L326.6 191.4L326.6 194.8L312.4 193.2ZM233 234.4L238.5 234.2L243.9 232.6L257.6 232.4L271.3 232.6L285 233.3L298.7 234.2L299.8 234.4L312.4 238.6L326.6 238.9L326.6 240.5L326.6 252.8L326.6 258.9L326.6 265L326.6 271.2L326.6 277.3L326.6 289.6L326.6 291.6L312.4 295L307.8 295.7L298.7 296.1L285 297.8L271.3 299.8L257.6 300.8L243.9 301.1L238.5 301L230.3 300.9L216.6 300.7L202.9 299.1L192.7 295.7L190.8 289.6L190.8 277.3L190.8 271.2L202.9 266.2L209.3 265L216.6 263L225.1 258.9L225.1 252.8L225.7 240.5L230.3 235Z"/>
<path fill="#0068ff" fill-rule="evenodd" d="M309.9 191.4L312.4 191.4L326.6 191.4L326.6 194.2L312.4 192.7ZM238.6 234.4L243.9 232.8L257.6 232.5L271.3 232.8L285 233.5L298.1 234.4L298.7 234.6L312.4 239.1L326.6 239.4L326.6 240.5L326.6 252.8L326.6 258.9L326.6 265L326.6 271.2L326.6 277.3L326.6 288.6L325.4 289.6L312.4 293.3L298.7 295.4L297.5 295.7L285 297.1L271.3 299.1L257.6 300.2L243.9 300.6L238.5 300.6L230.3 300.5L216.6 300.4L202.9 298.7L194 295.7L191.8 289.6L191.8 277.3L191.8 271.2L202.9 266.6L211.6 265L216.6 263.6L226.4 258.9L226.4 252.8L227.1 240.5L230.3 236.7L238.5 234.6Z"/>
<path fill="#0094ff" fill-rule="evenodd" d="M311 191.4L312.4 191.4L326.6 191.4L326.6 193.7L312.4 192.1ZM239.1 234.4L243.9 233L257.6 232.7L271.3 233L285 233.7L295.3 234.4L298.7 235.9L312.4 239.6L326.6 239.9L326.6 240.5L326.6 252.8L326.6 258.9L326.6 265L326.6 271.2L326.6 277.3L326.6 283.4L319.5 289.6L312.4 291.6L298.7 293.7L291.8 295.7L285 296.5L271.3 298.4L257.6 299.6L243.9 300.1L238.5 300.2L230.3 300.2L216.6 300.1L202.9 298.3L195.3 295.7L192.8 289.6L192.8 277.3L192.8 271.2L202.9 267L213.8 265L216.6 264.3L227.7 258.9L227.7 252.8L228.5 240.5L230.3 238.4L238.5 236.1Z"/>
<path fill="#00c0ff" fill-rule="evenodd" d="M312.1 191.4L312.4 191.4L326.6 191.4L326.6 193.1L312.4 191.5ZM239.7 234.4L243.9 233.1L257.6 232.8L271.3 233.1L285 233.9L292.4 234.4L298.7 237.2L312.4 240L326.6 240.4L326.6 240.5L326.6 252.8L326.6 258.9L326.6 265L326.6 271.2L326.6 277.3L326.6 278.3L313.6 289.6L312.4 289.9L298.7 292L286.1 295.7L285 295.9L271.3 297.6L257.6 298.9L243.9 299.6L238.5 299.8L230.3 299.8L216.6 299.8L202.9 297.9L196.5 295.7L193.8 289.6L193.8 277.3L193.8 271.2L202.9 267.4L216.1 265L216.6 264.9L229 258.9L229 252.8L230 240.5L230.3 240.2L238.5 237.5Z"/>
<path fill="#02e8f4" fill-rule="evenodd" d="M316.3 191.4L326.6 191.4L326.6 192.6ZM240.2 234.4L243.9 233.3L257.6 232.9L271.3 233.3L285 234.1L289.6 234.4L298.7 238.4L311.7 240.5L312.4 241.5L319.8 252.8L322.8 258.9L325.7 265L318.7 271.2L317.1 277.3L312.4 281.4L303.2 289.6L298.7 290.3L285 294.4L280.4 295.7L271.3 296.9L257.6 298.3L243.9 299.1L238.5 299.4L230.3 299.5L216.6 299.5L202.9 297.4L197.8 295.7L194.8 289.6L194.8 277.3L194.8 271.2L202.9 267.8L216.6 265.4L221.1 265L230.3 259.2L230.6 258.9L230.6 252.8L233.7 240.5L238.5 238.9Z"/>
<path fill="#26ffd1" fill-rule="evenodd" d="M321.3 191.4L326.6 191.4L326.6 192ZM240.7 234.4L243.9 233.4L257.6 233.1L271.3 233.4L285 234.2L286.7 234.4L298.7 239.7L303.6 240.5L311.5 252.8L311.5 258.9L312.4 262L313.8 265L312.4 266.6L308.9 271.2L305.5 277.3L298.7 283.4L295.3 289.6L285 292.7L274.7 295.7L271.3 296.2L257.6 297.6L243.9 298.6L238.5 298.9L230.3 299.1L216.6 299.2L202.9 297L199.1 295.7L195.8 289.6L195.8 277.3L195.8 271.2L202.9 268.3L216.6 265.8L226.8 265L230.3 262.8L234.4 258.9L235.5 252.8L238 240.5L238.5 240.3Z"/>
<path fill="#49ffad" fill-rule="evenodd" d="M326.2 191.4L326.6 191.4L326.6 191.4ZM241.3 234.4L243.9 233.6L257.6 233.2L271.3 233.6L284 234.4L285 235.4L296.4 240.5L298.7 244.6L304.4 252.8L304.4 258.9L305.2 265L299.4 271.2L298.7 272.2L297.2 277.3L289.6 289.6L285 290.9L271.3 295.2L269 295.7L257.6 297L243.9 298.1L238.5 298.5L230.3 298.8L216.6 299L202.9 296.6L200.4 295.7L196.8 289.6L196.8 277.3L196.8 271.2L202.9 268.7L216.6 266.2L230.3 265.2L231.6 265L238.2 258.9L238.5 257.9L238.7 252.8L238.9 240.5Z"/>
<path fill="#6aff8d" fill-rule="evenodd" d="M241.8 234.4L243.9 233.7L257.6 233.4L271.3 233.7L281.4 234.4L285 237.9L290.7 240.5L298 252.8L297.8 258.9L297.5 265L294.6 271.2L293.4 277.3L285 288.6L284.1 289.6L271.3 293.7L263.3 295.7L257.6 296.4L243.9 297.6L238.5 298.1L230.3 298.4L216.6 298.7L202.9 296.1L201.6 295.7L197.8 289.6L197.8 277.3L197.8 271.2L202.9 269.1L216.6 266.6L230.3 265.7L235 265L238.5 261.8L238.9 258.9L239.2 252.8L239.5 240.5Z"/>
<path fill="#8dff6a" fill-rule="evenodd" d="M242.4 234.4L243.9 233.9L257.6 233.5L271.3 233.9L278.8 234.4L285 240.5L285 240.5L294.7 252.8L293.4 258.9L291.8 265L290.3 271.2L289.6 277.3L285 283.4L279.7 289.6L271.3 292.3L257.6 295.7L257.6 295.7L243.9 297.1L238.5 297.7L230.3 298.1L216.6 298.4L202.9 295.7L202.9 295.7L198.8 289.6L198.8 277.3L198.8 271.2L202.9 269.5L216.6 267.1L230.3 266.2L238.5 265L238.5 265L239.4 258.9L239.7 252.8L240 240.5Z"/>
<path fill="#b1ff46" fill-rule="evenodd" d="M242.9 234.4L243.9 234.1L257.6 233.7L271.3 234.1L276.2 234.4L282.5 240.5L285 244.8L291.3 252.8L289 258.9L286.1 265L285.9 271.2L285.8 277.3L285 278.3L275.3 289.6L271.3 290.9L257.6 294.6L252.9 295.7L243.9 296.6L238.5 297.3L230.3 297.7L216.6 298.1L204.4 295.7L202.9 294.2L199.8 289.6L199.8 277.3L199.8 271.2L202.9 269.9L216.6 267.5L230.3 266.7L238.5 265.7L239.1 265L239.9 258.9L240.2 252.8L240.5 240.5Z"/>
<path fill="#d1ff26" fill-rule="evenodd" d="M243.5 234.4L243.9 234.2L257.6 233.8L271.3 234.2L273.6 234.4L280 240.5L285 249L287.9 252.8L285 258.4L284.8 258.9L282.7 265L282.5 271.2L282 277.3L271.3 289.2L271 289.6L257.6 293.5L248.1 295.7L243.9 296.2L238.5 296.9L230.3 297.4L216.6 297.8L205.9 295.7L202.9 292.7L200.8 289.6L200.8 277.3L200.8 271.2L202.9 270.3L216.6 267.9L230.3 267.2L238.5 266.3L239.7 265L240.4 258.9L240.6 252.8L241.1 240.5Z"/>
<path fill="#f4f802" fill-rule="evenodd" d="M244.6 234.4L257.6 234L270.7 234.4L271.3 234.6L277.6 240.5L284.6 252.8L281.9 258.9L279.9 265L279.3 271.2L278.2 277.3L271.3 285L267.2 289.6L257.6 292.4L243.9 295.6L243.6 295.7L238.5 296.5L230.3 297L216.6 297.5L207.4 295.7L202.9 291.2L201.8 289.6L201.8 277.3L201.8 271.2L202.9 270.7L216.6 268.3L230.3 267.7L238.5 267L240.3 265L240.9 258.9L241.1 252.8L241.6 240.5L243.9 234.5Z"/>
<path fill="#ffd000" fill-rule="evenodd" d="M249.7 234.4L257.6 234.1L265.5 234.4L271.3 237L275.1 240.5L281.4 252.8L279.1 258.9L277 265L276.1 271.2L274.4 277.3L271.3 280.7L263.4 289.6L257.6 291.3L243.9 294.4L240.7 295.7L238.5 296.1L230.3 296.7L216.6 297.2L208.9 295.7L202.9 289.7L202.8 289.6L202.8 277.3L202.8 271.2L202.9 271.1L216.6 268.7L230.3 268.2L238.5 267.6L240.9 265L241.4 258.9L241.6 252.8L242.1 240.5L243.9 235.9Z"/>
<path fill="#ffab00" fill-rule="evenodd" d="M254.9 234.4L257.6 234.3L260.3 234.4L271.3 239.3L272.6 240.5L278.3 252.8L276.2 258.9L274.2 265L273 271.2L271.3 275.6L270.3 277.3L259.6 289.6L257.6 290.2L243.9 293.1L238.5 295.4L237.6 295.7L230.3 296.3L216.6 296.9L210.4 295.7L204.6 289.6L204.6 277.3L205.1 271.2L216.6 269.1L230.3 268.7L238.5 268.2L241.5 265L241.9 258.9L242.1 252.8L242.6 240.5L243.9 237.2Z"/>
<path fill="#ff8200" fill-rule="evenodd" d="M243.2 240.5L243.9 238.6L257.6 235.6L268.6 240.5L271.3 244L275.1 252.8L273.4 258.9L271.3 265L271.3 265L268.6 271.2L265.1 277.3L257.6 286.5L254.9 289.6L243.9 291.9L238.5 294L233.3 295.7L230.3 296L216.6 296.6L211.9 295.7L206.5 289.6L206.5 277.3L207.4 271.2L216.6 269.6L230.3 269.3L238.5 268.9L242.1 265L242.4 258.9L242.6 252.8Z"/>
<path fill="#ff5900" fill-rule="evenodd" d="M243.7 240.5L243.9 239.9L257.6 238.1L262.9 240.5L271.3 251.3L271.9 252.8L271.3 255.3L269.7 258.9L265.6 265L262.9 271.2L259.9 277.3L257.6 280.1L249.2 289.6L243.9 290.7L238.5 292.6L230.3 295.2L228.7 295.7L216.6 296.3L213.4 295.7L208.4 289.6L208.4 277.3L209.8 271.2L216.6 270L230.3 269.8L238.5 269.5L242.7 265L242.9 258.9L243.1 252.8Z"/>
<path fill="#ff3400" fill-rule="evenodd" d="M243.6 252.8L243.9 246.2L257.6 241.3L265.6 252.8L264 258.9L259.9 265L257.6 270.2L256.7 271.2L253.1 277.3L243.9 288.8L243.6 289.6L238.5 291.2L230.3 293.5L223 295.7L216.6 296L214.9 295.7L210.3 289.6L210.3 277.3L212.2 271.2L216.6 270.4L230.3 270.3L238.5 270.2L243.3 265L243.4 258.9Z"/>
<path fill="#f60b00" fill-rule="evenodd" d="M254.2 252.8L257.6 251.5L258.5 252.8L258.3 258.9L257.6 259.9L246.2 265L245.3 271.2L244.9 277.3L243.9 278.5L239 289.6L238.5 289.8L230.3 291.8L217.3 295.7L216.6 295.8L216.4 295.7L212.2 289.6L212.2 277.3L214.6 271.2L216.6 270.8L230.3 270.8L238.5 270.8L243.9 265L243.9 258.9L243.9 257.4Z"/>
<path fill="#c40000" fill-rule="evenodd" d="M214.1 277.3L216.6 271.9L230.3 273.2L235.7 277.3L232.4 289.6L230.3 290.1L216.6 293.2L214.1 289.6Z"/>
<path fill="#960000" fill-rule="evenodd" d="M216 277.3L216.6 276.1L220.6 277.3L220.6 289.6L216.6 290.4L216 289.6Z"/>
</g>
<line x1="216.57" y1="309.10" x2="216.57" y2="306.50" stroke="#fff" stroke-width="0.9"/>
<line x1="216.57" y1="191.40" x2="216.57" y2="194.00" stroke="#fff" stroke-width="0.9"/>
<line x1="243.94" y1="309.10" x2="243.94" y2="306.50" stroke="#fff" stroke-width="0.9"/>
<line x1="243.94" y1="191.40" x2="243.94" y2="194.00" stroke="#fff" stroke-width="0.9"/>
<line x1="271.31" y1="309.10" x2="271.31" y2="306.50" stroke="#fff" stroke-width="0.9"/>
<line x1="271.31" y1="191.40" x2="271.31" y2="194.00" stroke="#fff" stroke-width="0.9"/>
<line x1="298.68" y1="309.10" x2="298.68" y2="306.50" stroke="#fff" stroke-width="0.9"/>
<line x1="298.68" y1="191.40" x2="298.68" y2="194.00" stroke="#fff" stroke-width="0.9"/>
<line x1="189.20" y1="301.86" x2="191.80" y2="301.86" stroke="#fff" stroke-width="0.9"/>
<line x1="326.60" y1="301.86" x2="324.00" y2="301.86" stroke="#fff" stroke-width="0.9"/>
<line x1="189.20" y1="277.31" x2="191.80" y2="277.31" stroke="#fff" stroke-width="0.9"/>
<line x1="326.60" y1="277.31" x2="324.00" y2="277.31" stroke="#fff" stroke-width="0.9"/>
<line x1="189.20" y1="252.77" x2="191.80" y2="252.77" stroke="#fff" stroke-width="0.9"/>
<line x1="326.60" y1="252.77" x2="324.00" y2="252.77" stroke="#fff" stroke-width="0.9"/>
<line x1="189.20" y1="228.22" x2="191.80" y2="228.22" stroke="#fff" stroke-width="0.9"/>
<line x1="326.60" y1="228.22" x2="324.00" y2="228.22" stroke="#fff" stroke-width="0.9"/>
<line x1="189.20" y1="203.67" x2="191.80" y2="203.67" stroke="#fff" stroke-width="0.9"/>
<line x1="326.60" y1="203.67" x2="324.00" y2="203.67" stroke="#fff" stroke-width="0.9"/>
<rect x="189.20" y="191.40" width="137.40" height="117.70" fill="none" stroke="#2a2a2a" stroke-width="0.9"/>
<text x="306.06" y="305.20" font-size="10" textLength="13.64" lengthAdjust="spacingAndGlyphs" fill="#fff">WT</text>
<clipPath id="hb1"><rect x="387.2" y="66.9" width="137.3" height="117.3"/></clipPath>
<g clip-path="url(#hb1)">
<rect x="386.2" y="65.9" width="139.3" height="119.3" fill="#00008f"/>
<path fill="#0000c8" fill-rule="evenodd" d="M387.2 66.9L400.9 66.9L414.6 66.9L428.2 66.9L441.9 66.9L455.6 66.9L469.3 66.9L482.9 66.9L496.6 66.9L510.3 66.9L524.5 66.9L524.5 79.1L524.5 91.4L524.5 103.6L524.5 115.8L524.5 127L511.5 115.8L512.6 103.6L510.3 103.1L496.6 96.5L490.9 91.4L483.3 79.1L482.9 78.8L469.3 74.4L455.6 74.4L441.9 77.1L428.2 79L427.8 79.1L414.6 91L414.2 91.4L414.6 91.6L428.2 94.7L441.9 98L454.4 103.6L455.6 103.7L469.3 104.2L482.9 105.2L496.6 110.7L508 115.8L509.1 128.1L510.3 129.1L523.3 140.3L523.3 152.5L510.3 160L496.6 164.6L496 164.8L482.9 174.1L469.3 176.8L468.7 177L455.6 182.5L450.3 184.2L441.9 184.2L428.2 184.2L414.6 184.2L400.9 184.2L387.2 184.2L387.2 177L387.2 164.8L387.2 152.5L387.2 140.3L387.2 128.1L387.2 115.8L387.2 103.6L387.2 91.4L387.2 79.1Z"/>
<path fill="#0000f6" fill-rule="evenodd" d="M387.2 66.9L400.9 66.9L414.6 66.9L428.2 66.9L441.9 66.9L447.6 66.9L441.9 69.8L428.2 75.1L418.3 79.1L414.6 82.5L404.7 91.4L414.6 98L428.2 101L433.9 103.6L441.9 105.6L455.6 106.1L469.3 106.6L482.9 110.8L490.1 115.8L491.3 128.1L496.6 132.8L505 140.3L506.7 152.5L496.6 159.9L482.9 164.6L482.5 164.8L469.3 173.2L455.6 176.8L455.2 177L441.9 183L439.2 184.2L428.2 184.2L414.6 184.2L400.9 184.2L387.2 184.2L387.2 177L387.2 164.8L387.2 152.5L387.2 140.3L387.2 128.1L387.2 115.8L387.2 103.6L387.2 91.4L387.2 79.1ZM477.2 66.9L482.9 66.9L496.6 66.9L510.3 66.9L524.5 66.9L524.5 79.1L524.5 88.1L510.3 90.5L496.6 83.2L492.8 79.1L482.9 70.3Z"/>
<path fill="#0014ff" fill-rule="evenodd" d="M387.2 66.9L400.9 66.9L414.6 66.9L428.2 66.9L437 66.9L428.2 71.1L414.6 77.6L410.3 79.1L400.9 87.5L396.6 91.4L400.9 101.6L407.7 103.6L414.6 104.6L428.2 105.6L441.9 109.3L455.6 108.5L469.3 108.9L482.4 115.8L482.1 128.1L482.9 128.5L496.1 140.3L496.6 142.3L500.4 152.5L496.6 155.3L482.9 162.3L476.8 164.8L469.3 169.6L455.6 174.5L450.4 177L441.9 180.8L434.5 184.2L428.2 184.2L414.6 184.2L400.9 184.2L387.2 184.2L387.2 177L387.2 164.8L387.2 152.5L387.2 141.6L390.6 140.3L387.7 128.1L387.2 127.8L387.2 115.8L387.2 103.6L387.2 91.4L387.2 79.1ZM441.9 125L439.9 128.1L441.9 129.2L448.7 128.1ZM491.5 66.9L496.6 66.9L510.3 66.9L524.5 66.9L524.5 77.1L517.4 79.1L510.3 80.4L508 79.1L496.6 71.5Z"/>
<path fill="#0040ff" fill-rule="evenodd" d="M387.2 66.9L400.9 66.9L414.6 66.9L428.2 66.9L428.9 66.9L428.2 67.2L414.6 75.1L403.2 79.1L400.9 81.2L389.5 91.4L387.2 96.8L387.2 91.4L387.2 79.1ZM508.8 66.9L510.3 66.9L512.6 66.9L510.3 67.9ZM387.2 115.8L387.2 104.6L400.9 110L414.6 113.1L428.2 109L441.9 112.9L455.6 111L469.3 111.2L478 115.8L474.9 128.1L482.9 132.4L491.7 140.3L495.1 152.5L482.9 159.9L471.1 164.8L469.3 165.9L455.6 172.2L445.7 177L441.9 178.7L429.7 184.2L428.2 184.2L414.6 184.2L400.9 184.2L387.2 184.2L387.2 177L387.2 164.8L387.2 152.5L387.2 143.8L396.3 140.3L391.5 128.1L387.2 125.6ZM441.9 119.9L436.5 128.1L441.9 131.1L455.6 128.9L460.1 128.1L455.6 126Z"/>
<path fill="#0068ff" fill-rule="evenodd" d="M387.2 66.9L400.9 66.9L414.6 66.9L424.2 66.9L414.6 72.5L400.9 75.3L398.6 79.1L387.2 89.3L387.2 79.1ZM387.2 115.8L387.2 107.2L400.1 115.8L400.9 117.3L414.6 117.2L420.1 115.8L428.2 112.4L439.6 115.8L433.2 128.1L441.9 133L455.6 131.2L469.3 128.7L482.9 136.4L487.3 140.3L491.3 152.5L482.9 157.6L469.3 163.3L466 164.8L455.6 169.8L441.9 176.5L441.3 177L428.2 183.2L425 184.2L414.6 184.2L400.9 184.2L387.2 184.2L387.2 177L387.2 164.8L387.2 152.5L387.2 146.1L400.9 140.7L402 140.3L400.9 138.8L395.3 128.1L387.2 123.4ZM444.2 115.8L455.6 113.4L469.3 113.5L473.6 115.8L469.3 126L455.6 120.9Z"/>
<path fill="#0094ff" fill-rule="evenodd" d="M387.2 66.9L400.9 66.9L414.6 66.9L419.8 66.9L414.6 70L400.9 69.6L395.2 79.1L387.2 86.3L387.2 79.1L387.2 66.9ZM387.2 115.8L387.2 109.7L396.3 115.8L387.2 121.1ZM399.1 128.1L400.9 124.6L414.6 119.3L428.2 115.8L429.8 128.1L441.9 134.9L455.6 133.4L469.3 132.1L482.9 140.3L482.9 140.3L487.5 152.5L482.9 155.3L469.3 161.2L461.3 164.8L455.6 167.5L441.9 173.9L438.1 177L428.2 181.7L420.2 184.2L414.6 184.2L400.9 184.2L387.2 184.2L387.2 177L387.2 164.8L387.2 152.5L387.2 148.3L400.9 142.7L407.7 140.3L400.9 131.6Z"/>
<path fill="#00c0ff" fill-rule="evenodd" d="M387.2 79.1L387.2 72L391.9 79.1L387.2 83.3ZM410.8 66.9L414.6 66.9L415.4 66.9L414.6 67.4ZM387.2 115.8L387.2 112.3L392.5 115.8L387.2 118.9ZM402.7 128.1L414.6 121.3L426.4 128.1L428.2 132.5L441.9 136.7L455.6 135.6L469.3 135.5L477.2 140.3L482.9 150.5L483.7 152.5L482.9 153L469.3 159.1L456.5 164.8L455.6 165.2L441.9 171.4L434.9 177L428.2 180.2L415.5 184.2L414.6 184.2L400.9 184.2L387.2 184.2L387.2 177L387.2 164.8L387.2 152.5L387.2 150.5L400.9 144.8L413.4 140.3Z"/>
<path fill="#02e8f4" fill-rule="evenodd" d="M387.2 79.1L387.2 77.1L388.5 79.1L387.2 80.3ZM387.2 115.8L387.2 114.8L388.7 115.8L387.2 116.7ZM406.3 128.1L414.6 123.3L422.8 128.1L414.6 137.2ZM429.4 140.3L441.9 138.6L455.6 137.8L469.3 138.9L471.5 140.3L479.1 152.5L469.3 156.9L455.6 162.7L451 164.8L441.9 168.8L431.8 177L428.2 178.7L414.6 183.4L410 184.2L400.9 184.2L387.2 184.2L387.2 177L387.2 164.8L387.2 152.7L387.6 152.5L400.9 146.8L414.6 142.3L428.2 140.5Z"/>
<path fill="#26ffd1" fill-rule="evenodd" d="M409.8 128.1L414.6 125.4L419.3 128.1L414.6 133.2ZM448.7 140.3L455.6 140L457.9 140.3L469.3 144.7L474.4 152.5L469.3 154.8L455.6 160.2L445.3 164.8L441.9 166.3L428.6 177L428.2 177.2L414.6 182.4L404.3 184.2L400.9 184.2L387.2 184.2L387.2 177L387.2 164.8L387.2 154.7L392.3 152.5L400.9 148.9L414.6 144.9L428.2 142.8L441.9 140.5Z"/>
<path fill="#49ffad" fill-rule="evenodd" d="M413.4 128.1L414.6 127.4L415.7 128.1L414.6 129.3ZM397.1 152.5L400.9 150.9L414.6 147.4L428.2 145.1L441.9 142.1L455.6 144L469.3 151.9L469.6 152.5L469.3 152.7L455.6 157.6L441.9 164L440.4 164.8L428.2 174.3L425.9 177L414.6 181.4L400.9 183.7L396.3 184.2L387.2 184.2L387.2 177L387.2 164.8L387.2 156.8Z"/>
<path fill="#6aff8d" fill-rule="evenodd" d="M403.2 152.5L414.6 150L428.2 147.4L441.9 143.8L455.6 148.3L462.7 152.5L455.6 155.1L441.9 162.2L436.6 164.8L428.2 171.3L423.4 177L414.6 180.4L400.9 182.3L387.2 183.9L387.2 177L387.2 164.8L387.2 158.8L400.9 152.9Z"/>
<path fill="#8dff6a" fill-rule="evenodd" d="M414.6 152.5L428.2 149.7L441.9 145.4L455.6 152.5L441.9 160.4L432.8 164.8L428.2 168.3L420.8 177L414.6 179.4L400.9 180.9L387.2 182.3L387.2 177L387.2 164.8L387.2 160.8L400.9 155L414.6 152.5Z"/>
<path fill="#b1ff46" fill-rule="evenodd" d="M425.9 152.5L428.2 152.1L441.9 147.1L452.4 152.5L441.9 158.6L429 164.8L428.2 165.4L418.2 177L414.6 178.4L400.9 179.6L387.2 180.7L387.2 177L387.2 164.8L387.2 162.9L400.9 157L414.6 154.2Z"/>
<path fill="#d1ff26" fill-rule="evenodd" d="M431.7 152.5L441.9 148.7L449.2 152.5L441.9 156.7ZM387.6 164.8L400.9 159L414.6 155.9L426.4 164.8L415.6 177L414.6 177.4L400.9 178.2L387.2 179.1L387.2 177L387.2 165.4Z"/>
<path fill="#f4f802" fill-rule="evenodd" d="M436.1 152.5L441.9 150.4L446.1 152.5L441.9 154.9ZM392.3 164.8L400.9 161.1L414.6 157.6L424.1 164.8L414.6 175.5L400.9 176.2L397.5 177L387.2 177.6L387.2 177L387.2 173.9Z"/>
<path fill="#ffd000" fill-rule="evenodd" d="M440.5 152.5L441.9 152L442.9 152.5L441.9 153.1ZM397.1 164.8L400.9 163.1L414.6 159.3L421.8 164.8L414.6 172.9L400.9 169.8Z"/>
<path fill="#ffab00" fill-rule="evenodd" d="M402 164.8L414.6 161L419.6 164.8L414.6 170.4Z"/>
<path fill="#ff8200" fill-rule="evenodd" d="M407.7 164.8L414.6 162.7L417.3 164.8L414.6 167.8Z"/>
<path fill="#ff5900" fill-rule="evenodd" d="M413.4 164.8L414.6 164.4L415 164.8L414.6 165.3Z"/>
</g>
<line x1="414.55" y1="184.20" x2="414.55" y2="181.60" stroke="#222" stroke-width="0.9"/>
<line x1="414.55" y1="66.90" x2="414.55" y2="69.50" stroke="#222" stroke-width="0.9"/>
<line x1="441.90" y1="184.20" x2="441.90" y2="181.60" stroke="#222" stroke-width="0.9"/>
<line x1="441.90" y1="66.90" x2="441.90" y2="69.50" stroke="#222" stroke-width="0.9"/>
<line x1="469.25" y1="184.20" x2="469.25" y2="181.60" stroke="#222" stroke-width="0.9"/>
<line x1="469.25" y1="66.90" x2="469.25" y2="69.50" stroke="#222" stroke-width="0.9"/>
<line x1="496.60" y1="184.20" x2="496.60" y2="181.60" stroke="#222" stroke-width="0.9"/>
<line x1="496.60" y1="66.90" x2="496.60" y2="69.50" stroke="#222" stroke-width="0.9"/>
<line x1="387.20" y1="176.98" x2="389.80" y2="176.98" stroke="#222" stroke-width="0.9"/>
<line x1="524.50" y1="176.98" x2="521.90" y2="176.98" stroke="#222" stroke-width="0.9"/>
<line x1="387.20" y1="152.52" x2="389.80" y2="152.52" stroke="#222" stroke-width="0.9"/>
<line x1="524.50" y1="152.52" x2="521.90" y2="152.52" stroke="#222" stroke-width="0.9"/>
<line x1="387.20" y1="128.06" x2="389.80" y2="128.06" stroke="#222" stroke-width="0.9"/>
<line x1="524.50" y1="128.06" x2="521.90" y2="128.06" stroke="#222" stroke-width="0.9"/>
<line x1="387.20" y1="103.59" x2="389.80" y2="103.59" stroke="#222" stroke-width="0.9"/>
<line x1="524.50" y1="103.59" x2="521.90" y2="103.59" stroke="#222" stroke-width="0.9"/>
<line x1="387.20" y1="79.13" x2="389.80" y2="79.13" stroke="#222" stroke-width="0.9"/>
<line x1="524.50" y1="79.13" x2="521.90" y2="79.13" stroke="#222" stroke-width="0.9"/>
<rect x="387.20" y="66.90" width="137.30" height="117.30" fill="none" stroke="#2a2a2a" stroke-width="0.9"/>
<text x="471.55" y="180.60" font-size="10" textLength="48.69" lengthAdjust="spacingAndGlyphs" fill="#fff">KO in Emx1</text>
<clipPath id="hb2"><rect x="546" y="66.9" width="136.5" height="117.3"/></clipPath>
<g clip-path="url(#hb2)">
<rect x="545" y="65.9" width="138.5" height="119.3" fill="#00008f"/>
</g>
<line x1="573.19" y1="184.20" x2="573.19" y2="181.60" stroke="#fff" stroke-width="0.9"/>
<line x1="573.19" y1="66.90" x2="573.19" y2="69.50" stroke="#fff" stroke-width="0.9"/>
<line x1="600.38" y1="184.20" x2="600.38" y2="181.60" stroke="#fff" stroke-width="0.9"/>
<line x1="600.38" y1="66.90" x2="600.38" y2="69.50" stroke="#fff" stroke-width="0.9"/>
<line x1="627.57" y1="184.20" x2="627.57" y2="181.60" stroke="#fff" stroke-width="0.9"/>
<line x1="627.57" y1="66.90" x2="627.57" y2="69.50" stroke="#fff" stroke-width="0.9"/>
<line x1="654.76" y1="184.20" x2="654.76" y2="181.60" stroke="#fff" stroke-width="0.9"/>
<line x1="654.76" y1="66.90" x2="654.76" y2="69.50" stroke="#fff" stroke-width="0.9"/>
<line x1="546.00" y1="176.98" x2="548.60" y2="176.98" stroke="#fff" stroke-width="0.9"/>
<line x1="682.50" y1="176.98" x2="679.90" y2="176.98" stroke="#fff" stroke-width="0.9"/>
<line x1="546.00" y1="152.52" x2="548.60" y2="152.52" stroke="#fff" stroke-width="0.9"/>
<line x1="682.50" y1="152.52" x2="679.90" y2="152.52" stroke="#fff" stroke-width="0.9"/>
<line x1="546.00" y1="128.06" x2="548.60" y2="128.06" stroke="#fff" stroke-width="0.9"/>
<line x1="682.50" y1="128.06" x2="679.90" y2="128.06" stroke="#fff" stroke-width="0.9"/>
<line x1="546.00" y1="103.59" x2="548.60" y2="103.59" stroke="#fff" stroke-width="0.9"/>
<line x1="682.50" y1="103.59" x2="679.90" y2="103.59" stroke="#fff" stroke-width="0.9"/>
<line x1="546.00" y1="79.13" x2="548.60" y2="79.13" stroke="#fff" stroke-width="0.9"/>
<line x1="682.50" y1="79.13" x2="679.90" y2="79.13" stroke="#fff" stroke-width="0.9"/>
<rect x="546.00" y="66.90" width="136.50" height="117.30" fill="none" stroke="#2a2a2a" stroke-width="0.9"/>
<text x="628.84" y="181.00" font-size="10" textLength="49.31" lengthAdjust="spacingAndGlyphs" fill="#fff">KO in Emx1</text>
<clipPath id="hb3"><rect x="387.2" y="192.4" width="137.3" height="117.3"/></clipPath>
<g clip-path="url(#hb3)">
<rect x="386.2" y="191.4" width="139.3" height="119.3" fill="#00008f"/>
<path fill="#0000c8" fill-rule="evenodd" d="M387.2 192.4L400.9 192.4L414.6 192.4L428.2 192.4L441.9 192.4L455.6 192.4L469.3 192.4L482.9 192.4L496.6 192.4L510.3 192.4L524.5 192.4L524.5 204.6L524.5 216.9L524.5 229.1L524.5 241.3L524.5 253.6L524.5 265.8L524.5 278L524.5 290.3L524.5 302.5L524.5 305.5L510.3 307.6L496.6 309.5L495.5 309.7L482.9 309.7L469.3 309.7L455.6 309.7L441.9 309.7L428.2 309.7L414.6 309.7L400.9 309.7L387.2 309.7L387.2 302.5L387.2 290.3L387.2 278L387.2 265.8L387.2 253.6L387.2 241.3L387.2 229.1L387.2 217.2L387.4 216.9L387.2 216.7L387.2 204.6Z"/>
<path fill="#0000f6" fill-rule="evenodd" d="M387.2 192.4L400.9 192.4L414.6 192.4L428.2 192.4L441.9 192.4L455.6 192.4L469.3 192.4L482.9 192.4L496.6 192.4L510.3 192.4L524.5 192.4L524.5 204.6L524.5 216.9L524.5 229.1L524.5 241.3L524.5 253.6L524.5 265.8L524.5 278L524.5 290.3L524.5 294.3L510.3 300.4L506.6 302.5L496.6 305.8L482.9 308.5L474.9 309.7L469.3 309.7L455.6 309.7L441.9 309.7L428.2 309.7L414.6 309.7L400.9 309.7L387.2 309.7L387.2 302.5L387.2 290.3L387.2 278L387.2 265.8L387.2 253.6L387.2 241.3L387.2 229.1L387.2 225.7L392.6 216.9L387.2 212L387.2 204.6Z"/>
<path fill="#0014ff" fill-rule="evenodd" d="M387.2 192.4L400.9 192.4L414.6 192.4L428.2 192.4L441.9 192.4L455.6 192.4L469.3 192.4L482.9 192.4L496.6 192.4L510.3 192.4L524.5 192.4L524.5 204.6L524.5 216.9L524.5 229.1L524.5 241.3L524.5 253.6L524.5 265.8L524.5 278L524.5 284.1L517.4 290.3L510.3 294.1L496.6 302L495.7 302.5L482.9 306.3L469.3 308.8L462.4 309.7L455.6 309.7L441.9 309.7L428.2 309.7L414.6 309.7L400.9 309.7L387.2 309.7L387.2 302.5L387.2 290.3L387.2 278L387.2 265.8L387.2 253.6L387.2 241.3L387.2 230.9L389.2 229.1L397.8 216.9L387.2 207.4L387.2 204.6Z"/>
<path fill="#0040ff" fill-rule="evenodd" d="M387.2 192.4L400.9 192.4L414.6 192.4L428.2 192.4L441.9 192.4L455.6 192.4L469.3 192.4L482.9 192.4L496.6 192.4L510.3 192.4L524.5 192.4L524.5 204.6L524.5 216.9L524.5 229.1L524.5 241.3L524.5 253.6L524.5 265.8L524.5 271.2L516.6 278L510.3 283.5L508 290.3L496.6 298.1L488.6 302.5L482.9 304.2L469.3 307.3L455.6 309.2L452.3 309.7L441.9 309.7L428.2 309.7L414.6 309.7L400.9 309.7L387.2 309.7L387.2 302.5L387.2 290.3L387.2 278L387.2 265.8L387.2 253.6L387.2 241.3L387.2 233.9L392.6 229.1L400.9 218.6L405.4 216.9L400.9 215.2L389.1 204.6L387.2 203.3ZM469.3 238.3L462.1 241.3L469.3 243.3L476.4 241.3Z"/>
<path fill="#0068ff" fill-rule="evenodd" d="M387.2 192.4L400.9 192.4L414.6 192.4L428.2 192.4L441.9 192.4L455.6 192.4L469.3 192.4L482.9 192.4L496.6 192.4L510.3 192.4L524.5 192.4L524.5 204.6L524.5 216.9L524.5 229.1L524.5 241.3L524.5 253.6L524.5 260.8L510.3 260.7L508.9 265.8L506 278L502.3 290.3L496.6 294.2L482.9 301.9L481.8 302.5L469.3 305.8L455.6 308L444.2 309.7L441.9 309.7L428.2 309.7L414.6 309.7L400.9 309.7L387.2 309.7L387.2 302.5L387.2 290.3L387.2 278L387.2 265.8L387.2 253.6L387.2 241.3L387.2 236.9L395.9 229.1L400.9 222.8L414.6 217.6L420.2 216.9L414.6 215.8L400.9 210.9L393.8 204.6L387.2 199.9ZM455.6 240.3L453.3 241.3L455.6 241.8L469.3 245.5L482.9 242.3L485.2 241.3L482.9 240.3L469.3 234.9Z"/>
<path fill="#0094ff" fill-rule="evenodd" d="M387.2 192.4L400.9 192.4L414.6 192.4L428.2 192.4L441.9 192.4L455.6 192.4L469.3 192.4L482.9 192.4L496.6 192.4L510.3 192.4L524.5 192.4L524.5 204.6L524.5 216.9L524.5 229.1L524.5 241.3L524.5 253.6L510.3 246.2L496.6 241.3L496.6 241.3L482.9 235.2L469.3 231.5L455.6 235.2L441.9 241.3L441.9 241.3L441.9 241.3L455.6 244.4L469.3 247.7L482.9 247.4L496.6 253.6L496.6 253.6L501.7 265.8L499.6 278L496.6 290.3L496.6 290.3L482.9 299.1L476.1 302.5L469.3 304.3L455.6 306.8L441.9 308.8L435.1 309.7L428.2 309.7L414.6 309.7L400.9 309.7L387.2 309.7L387.2 302.5L387.2 290.3L387.2 278L387.2 265.8L387.2 253.6L387.2 241.3L387.2 239.9L399.3 229.1L400.9 227.1L414.6 221.6L428.2 219.7L441.9 216.9L455.6 216.9L455.6 216.9L455.6 216.9L441.9 216.9L428.2 212.3L414.6 210.7L400.9 206.7L398.6 204.6L387.2 196.5Z"/>
<path fill="#00c0ff" fill-rule="evenodd" d="M387.2 192.4L400.9 192.4L414.6 192.4L428.2 192.4L441.9 192.4L455.6 192.4L459.4 192.4L455.6 195.8L441.9 202.6L433.9 204.6L428.2 205.9L414.6 205.7L410.8 204.6L400.9 202.6L387.2 193.1ZM473 192.4L482.9 192.4L496.6 192.4L510.3 192.4L524.5 192.4L524.5 204.6L524.5 208L510.3 213.3L496.6 209.7L490.9 204.6L482.9 202.6ZM405.8 229.1L414.6 225.5L428.2 223.6L441.9 223.2L455.6 227.1L461.3 229.1L455.6 230.1L441.9 235L428.2 238L414.6 238.5ZM477.2 229.1L482.9 224L496.6 218.9L510.3 218.4L524.5 225.7L524.5 229.1L524.5 232.5L510.3 238.7L496.6 236.2L482.9 230.1ZM387.2 253.6L387.2 244L400.9 242.5L414.6 242.3L428.2 243L441.9 244.3L455.6 246.9L469.3 249.9L482.9 252.5L485.2 253.6L495.5 265.8L495 278L492.2 290.3L482.9 296.3L470.4 302.5L469.3 302.8L455.6 305.6L441.9 307.6L428.2 309.3L425 309.7L414.6 309.7L400.9 309.7L387.2 309.7L387.2 302.5L387.2 290.3L387.2 278L387.2 265.8Z"/>
<path fill="#02e8f4" fill-rule="evenodd" d="M391.8 192.4L400.9 192.4L414.6 192.4L428.2 192.4L441.9 192.4L446.5 192.4L441.9 195.3L428.2 200.6L414.6 201.9L400.9 198.7ZM480.1 192.4L482.9 192.4L496.6 192.4L510.3 192.4L524.5 192.4L524.5 201.9L510.3 203L496.6 200.6L482.9 195.3ZM416.8 229.1L428.2 227.5L439.6 229.1L428.2 231.6ZM492 229.1L496.6 226.2L510.3 224.1L517.7 229.1L510.3 233.6L496.6 231.1ZM387.2 253.6L387.2 249.1L400.9 246.8L414.6 245.7L428.2 246.2L441.9 247.3L455.6 249.5L469.3 252.1L475.3 253.6L482.9 257L491.4 265.8L491.8 278L487.8 290.3L482.9 293.4L469.3 301.3L464.7 302.5L455.6 304.4L441.9 306.4L428.2 308.1L414.6 309.6L413 309.7L400.9 309.7L387.2 309.7L387.2 302.5L387.2 290.3L387.2 278L387.2 265.8Z"/>
<path fill="#26ffd1" fill-rule="evenodd" d="M397.5 192.4L400.9 192.4L414.6 192.4L428.2 192.4L435.1 192.4L428.2 195.5L414.6 198.5L400.9 194.8ZM489.8 192.4L496.6 192.4L510.3 192.4L524.5 192.4L524.5 198.5L510.3 197.9L496.6 195.5ZM389.5 253.6L400.9 251L414.6 249.1L428.2 249.4L441.9 250.3L455.6 252L464.1 253.6L469.3 254.1L482.9 261.2L487.3 265.8L488.6 278L483.5 290.3L482.9 290.6L469.3 299.9L459 302.5L455.6 303.2L441.9 305.2L428.2 306.8L414.6 308.3L400.9 309.2L390.6 309.7L387.2 309.7L387.2 302.5L387.2 290.3L387.2 278L387.2 265.8L387.2 254.3Z"/>
<path fill="#49ffad" fill-rule="evenodd" d="M405.4 192.4L414.6 192.4L423.7 192.4L414.6 195.1ZM508 192.4L510.3 192.4L524.5 192.4L524.5 195.1L510.3 192.8ZM408.5 253.6L414.6 252.5L428.2 252.5L441.9 253.3L444.2 253.6L455.6 254L469.3 255.7L482.9 265.4L483.3 265.8L485.5 278L482.9 283.8L481.1 290.3L469.3 298.4L455.6 302L452.3 302.5L441.9 304L428.2 305.6L414.6 307.1L400.9 307.8L387.2 308.7L387.2 302.5L387.2 290.3L387.2 278L387.2 265.8L387.2 260.7L400.9 254.2Z"/>
<path fill="#6aff8d" fill-rule="evenodd" d="M387.6 265.8L400.9 255.7L414.6 254.4L428.2 254.3L441.9 254.6L455.6 255.3L469.3 257.3L480.9 265.8L482.5 278L479 290.3L469.3 297L455.6 300.7L444.2 302.5L441.9 302.8L428.2 304.3L414.6 305.8L400.9 306.5L387.2 307.6L387.2 302.5L387.2 290.3L387.2 278L387.2 266.1Z"/>
<path fill="#8dff6a" fill-rule="evenodd" d="M389.6 265.8L400.9 257.2L414.6 255.6L428.2 255.4L441.9 255.8L455.6 256.5L469.3 258.9L478.7 265.8L480.6 278L476.8 290.3L469.3 295.5L455.6 299.3L441.9 301.6L433.7 302.5L428.2 303.1L414.6 304.6L400.9 305.1L387.2 306.5L387.2 302.5L387.2 290.3L387.2 278L387.2 267.4Z"/>
<path fill="#b1ff46" fill-rule="evenodd" d="M391.5 265.8L400.9 258.7L414.6 256.9L428.2 256.5L441.9 256.9L455.6 257.7L469.3 260.5L476.5 265.8L478.6 278L474.7 290.3L469.3 294L455.6 298L441.9 300.4L428.2 301.9L422.3 302.5L414.6 303.3L400.9 303.7L387.2 305.4L387.2 302.5L387.2 290.3L387.2 278L387.2 268.8Z"/>
<path fill="#d1ff26" fill-rule="evenodd" d="M393.5 265.8L400.9 260.2L414.6 258.1L428.2 257.6L441.9 258.1L455.6 258.9L469.3 262.1L474.3 265.8L476.6 278L472.6 290.3L469.3 292.6L455.6 296.7L441.9 299.2L428.2 300.6L414.6 302.1L400.9 302.4L400.2 302.5L387.2 304.3L387.2 302.5L387.2 290.3L387.2 278L387.2 270.2Z"/>
<path fill="#f4f802" fill-rule="evenodd" d="M395.5 265.8L400.9 261.7L414.6 259.4L428.2 258.7L441.9 259.3L455.6 260.1L469.3 263.7L472.1 265.8L474.7 278L470.5 290.3L469.3 291.1L455.6 295.4L441.9 298L428.2 299.4L414.6 300.8L400.9 301.1L392.1 302.5L387.2 303.2L387.2 302.5L387.2 290.3L387.2 278L387.2 271.6Z"/>
<path fill="#ffd000" fill-rule="evenodd" d="M397.4 265.8L400.9 263.2L414.6 260.6L428.2 259.9L441.9 260.4L455.6 261.3L469.3 265.3L470 265.8L472.7 278L469.3 288L467.6 290.3L455.6 294.1L441.9 296.8L428.2 298.2L414.6 299.5L400.9 299.8L387.2 301.8L387.2 290.3L387.2 278L387.2 273Z"/>
<path fill="#ffab00" fill-rule="evenodd" d="M399.4 265.8L400.9 264.6L414.6 261.9L428.2 261L441.9 261.6L455.6 262.5L466.5 265.8L469.3 271.6L470.7 278L469.3 282.3L463.6 290.3L455.6 292.8L441.9 295.5L428.2 297L414.6 298.3L400.9 298.5L387.2 300.3L387.2 290.3L387.2 278L387.2 274.3Z"/>
<path fill="#ff8200" fill-rule="evenodd" d="M402.2 265.8L414.6 263.1L428.2 262.1L441.9 262.7L455.6 263.8L462.4 265.8L468.3 278L459.5 290.3L455.6 291.5L441.9 294.3L428.2 295.8L414.6 297L400.9 297.2L387.2 298.7L387.2 290.3L387.2 278L387.2 275.7L400.9 266.5Z"/>
<path fill="#ff5900" fill-rule="evenodd" d="M407.9 265.8L414.6 264.3L428.2 263.2L441.9 263.9L455.6 265L458.3 265.8L464.5 278L455.6 290L455.3 290.3L441.9 293.1L428.2 294.6L414.6 295.7L400.9 295.8L387.2 297.1L387.2 290.3L387.2 278L387.2 277.1L400.9 269.3Z"/>
<path fill="#ff3400" fill-rule="evenodd" d="M413.6 265.8L414.6 265.6L428.2 264.3L441.9 265L451 265.8L455.6 268.1L460.7 278L455.6 285L449.7 290.3L441.9 291.9L428.2 293.4L414.6 294.4L400.9 294.5L387.2 295.5L387.2 290.3L387.2 279.1L389 278L400.9 272.1Z"/>
<path fill="#f60b00" fill-rule="evenodd" d="M424.1 265.8L428.2 265.4L435.1 265.8L441.9 268.1L455.6 275.4L456.9 278L455.6 279.9L444 290.3L441.9 290.7L428.2 292.1L414.6 293.2L400.9 293.2L387.2 293.9L387.2 290.3L387.2 282.5L394.7 278L400.9 275L414.6 270.1Z"/>
<path fill="#c40000" fill-rule="evenodd" d="M400.4 278L400.9 277.8L414.6 275.2L428.2 272.3L441.9 274.5L448.3 278L441.9 283.7L434.6 290.3L428.2 290.9L414.6 291.9L400.9 291.9L387.2 292.3L387.2 290.3L387.2 285.9Z"/>
<path fill="#960000" fill-rule="evenodd" d="M387.2 290.3L387.2 289.3L400.9 287.4L414.6 285.5L419.9 290.3L414.6 290.6L400.9 290.6L387.2 290.7Z"/>
</g>
<line x1="414.55" y1="309.70" x2="414.55" y2="307.10" stroke="#222" stroke-width="0.9"/>
<line x1="414.55" y1="192.40" x2="414.55" y2="195.00" stroke="#222" stroke-width="0.9"/>
<line x1="441.90" y1="309.70" x2="441.90" y2="307.10" stroke="#222" stroke-width="0.9"/>
<line x1="441.90" y1="192.40" x2="441.90" y2="195.00" stroke="#222" stroke-width="0.9"/>
<line x1="469.25" y1="309.70" x2="469.25" y2="307.10" stroke="#222" stroke-width="0.9"/>
<line x1="469.25" y1="192.40" x2="469.25" y2="195.00" stroke="#222" stroke-width="0.9"/>
<line x1="496.60" y1="309.70" x2="496.60" y2="307.10" stroke="#222" stroke-width="0.9"/>
<line x1="496.60" y1="192.40" x2="496.60" y2="195.00" stroke="#222" stroke-width="0.9"/>
<line x1="387.20" y1="302.48" x2="389.80" y2="302.48" stroke="#222" stroke-width="0.9"/>
<line x1="524.50" y1="302.48" x2="521.90" y2="302.48" stroke="#222" stroke-width="0.9"/>
<line x1="387.20" y1="278.02" x2="389.80" y2="278.02" stroke="#222" stroke-width="0.9"/>
<line x1="524.50" y1="278.02" x2="521.90" y2="278.02" stroke="#222" stroke-width="0.9"/>
<line x1="387.20" y1="253.56" x2="389.80" y2="253.56" stroke="#222" stroke-width="0.9"/>
<line x1="524.50" y1="253.56" x2="521.90" y2="253.56" stroke="#222" stroke-width="0.9"/>
<line x1="387.20" y1="229.09" x2="389.80" y2="229.09" stroke="#222" stroke-width="0.9"/>
<line x1="524.50" y1="229.09" x2="521.90" y2="229.09" stroke="#222" stroke-width="0.9"/>
<line x1="387.20" y1="204.63" x2="389.80" y2="204.63" stroke="#222" stroke-width="0.9"/>
<line x1="524.50" y1="204.63" x2="521.90" y2="204.63" stroke="#222" stroke-width="0.9"/>
<rect x="387.20" y="192.40" width="137.30" height="117.30" fill="none" stroke="#2a2a2a" stroke-width="0.9"/>
<text x="504.96" y="306.10" font-size="10" textLength="14.25" lengthAdjust="spacingAndGlyphs" fill="#fff">WT</text>
<clipPath id="hb4"><rect x="546" y="192.4" width="136.5" height="117.3"/></clipPath>
<g clip-path="url(#hb4)">
<rect x="545" y="191.4" width="138.5" height="119.3" fill="#00008f"/>
<path fill="#0000c8" fill-rule="evenodd" d="M663 192.4L668.4 192.4L682.5 192.4L682.5 198.5L682.5 199.1L676.4 198.5L668.4 195.6ZM665 225.4L668.4 224.8L682.5 223.5L682.5 225.4L682.5 227.7L668.4 226.1ZM665 252.3L668.4 251.1L682.5 248.4L682.5 252.3L682.5 254L668.4 252.8ZM578 265.8L586.8 264.6L594.9 264.3L600.4 263.3L614 263.1L627.6 263.2L641.2 264.2L652 265.8L652.3 271.9L652.3 278L652 284.1L651.6 290.3L648.3 296.4L641.2 298.3L627.6 300.2L614 301.2L600.4 301.8L594.9 301.8L586.8 301.9L573.2 301.9L559.6 301L550.7 296.4L548.3 290.3L548.4 284.1L548.8 278L559.6 276.5L571.9 271.9L573.2 269.3Z"/>
<path fill="#0000f6" fill-rule="evenodd" d="M664.4 192.4L668.4 192.4L682.5 192.4L682.5 198.5L682.5 198.9L678.7 198.5L668.4 194.8ZM666.8 225.4L668.4 225.1L682.5 223.7L682.5 225.4L682.5 227.4L668.4 225.7ZM666.8 252.3L668.4 251.8L682.5 249L682.5 252.3L682.5 253.8L668.4 252.6ZM579.4 265.8L586.8 264.8L594.9 264.5L600.4 263.4L614 263.2L627.6 263.4L641.2 264.4L650.7 265.8L651.1 271.9L651.1 278L650.7 284.1L650.2 290.3L646.5 296.4L641.2 297.8L627.6 299.8L614 300.9L600.4 301.4L594.9 301.5L586.8 301.6L573.2 301.6L559.6 300.6L551.5 296.4L549 290.3L549.1 284.1L550 278L559.6 276.6L572.4 271.9L573.2 270.3Z"/>
<path fill="#0014ff" fill-rule="evenodd" d="M665.8 192.4L668.4 192.4L682.5 192.4L682.5 198.5L682.5 198.6L681.1 198.5L668.4 193.9ZM668.7 225.4L682.5 224L682.5 225.4L682.5 227.1ZM668.7 252.3L682.5 249.5L682.5 252.3L682.5 253.6ZM580.8 265.8L586.8 265L594.9 264.7L600.4 263.5L614 263.3L627.6 263.5L641.2 264.6L649.5 265.8L650 271.9L650 278L649.5 284.1L648.8 290.3L644.6 296.4L641.2 297.3L627.6 299.4L614 300.5L600.4 301.1L594.9 301.2L586.8 301.3L573.2 301.4L559.6 300.2L552.3 296.4L549.7 290.3L549.8 284.1L551.3 278L559.6 276.8L572.9 271.9L573.2 271.3Z"/>
<path fill="#0040ff" fill-rule="evenodd" d="M667.2 192.4L668.4 192.4L682.5 192.4L682.5 198.2L668.4 193.1ZM671.2 225.4L682.5 224.3L682.5 225.4L682.5 226.8ZM671.2 252.3L682.5 250L682.5 252.3L682.5 253.3ZM582.3 265.8L586.8 265.2L594.9 264.8L600.4 263.7L614 263.5L627.6 263.6L641.2 264.8L648.2 265.8L648.9 271.9L648.9 278L648.2 284.1L647.4 290.3L642.7 296.4L641.2 296.8L627.6 299L614 300.2L600.4 300.8L594.9 300.9L586.8 301L573.2 301.1L559.6 299.8L553.1 296.4L550.4 290.3L550.5 284.1L552.5 278L559.6 277L573.2 272.2L574.5 271.9Z"/>
<path fill="#0068ff" fill-rule="evenodd" d="M668.8 192.4L682.5 192.4L682.5 197.3ZM673.8 225.4L682.5 224.5L682.5 225.4L682.5 226.5ZM673.8 252.3L682.5 250.5L682.5 252.3L682.5 253.1ZM583.7 265.8L586.8 265.4L594.9 265L600.4 263.8L614 263.6L627.6 263.8L641.2 265L647 265.8L647.7 271.9L647.7 278L647 284.1L646 290.3L641.2 296L640.7 296.4L627.6 298.6L614 299.8L600.4 300.4L594.9 300.6L586.8 300.7L573.2 300.8L559.6 299.3L553.9 296.4L551.1 290.3L551.2 284.1L553.8 278L559.6 277.2L573.2 273.1L577.6 271.9Z"/>
<path fill="#0094ff" fill-rule="evenodd" d="M671.2 192.4L682.5 192.4L682.5 196.5ZM676.4 225.4L682.5 224.8L682.5 225.4L682.5 226.1ZM676.4 252.3L682.5 251.1L682.5 252.3L682.5 252.9ZM585.1 265.8L586.8 265.6L594.9 265.2L600.4 264L614 263.7L627.6 263.9L641.2 265.1L645.7 265.8L646.6 271.9L646.6 278L645.7 284.1L644.6 290.3L641.2 294.3L638.5 296.4L627.6 298.2L614 299.4L600.4 300.1L594.9 300.3L586.8 300.4L573.2 300.6L559.6 298.9L554.7 296.4L551.8 290.3L551.9 284.1L555.1 278L559.6 277.4L573.2 273.9L580.7 271.9Z"/>
<path fill="#00c0ff" fill-rule="evenodd" d="M673.5 192.4L682.5 192.4L682.5 195.6ZM678.9 225.4L682.5 225.1L682.5 225.4L682.5 225.8ZM678.9 252.3L682.5 251.6L682.5 252.3L682.5 252.7ZM586.5 265.8L586.8 265.7L594.9 265.4L600.4 264.1L614 263.9L627.6 264.1L641.2 265.3L644.4 265.8L645.5 271.9L645.5 278L644.4 284.1L643.2 290.3L641.2 292.6L636.2 296.4L627.6 297.9L614 299.1L600.4 299.8L594.9 300L586.8 300.2L573.2 300.3L559.6 298.5L555.5 296.4L552.5 290.3L552.7 284.1L556.3 278L559.6 277.5L573.2 274.8L583.9 271.9Z"/>
<path fill="#02e8f4" fill-rule="evenodd" d="M675.9 192.4L682.5 192.4L682.5 194.8ZM681.5 225.4L682.5 225.3L682.5 225.4L682.5 225.5ZM681.5 252.3L682.5 252.1L682.5 252.3L682.5 252.4ZM590.2 265.8L594.9 265.6L600.4 264.3L614 264L627.6 264.2L641.2 265.5L643.2 265.8L644.3 271.9L644.3 278L643.2 284.1L641.7 290.3L641.2 290.9L633.9 296.4L627.6 297.5L614 298.7L600.4 299.4L594.9 299.7L586.8 299.9L573.2 300L559.6 298.1L556.4 296.4L553.2 290.3L553.4 284.1L557.6 278L559.6 277.7L573.2 275.6L586.8 272.1L587.1 271.9Z"/>
<path fill="#26ffd1" fill-rule="evenodd" d="M678.3 192.4L682.5 192.4L682.5 193.9ZM594.4 265.8L594.9 265.8L600.4 264.4L614 264.1L627.6 264.3L641.2 265.7L641.9 265.8L643.2 271.9L643.2 278L641.9 284.1L641.2 287.2L640.2 290.3L631.7 296.4L627.6 297.1L614 298.3L600.4 299.1L594.9 299.4L586.8 299.6L573.2 299.7L559.6 297.6L557.2 296.4L553.9 290.3L554.1 284.1L558.8 278L559.6 277.9L573.2 276.5L586.8 274.2L590.9 271.9Z"/>
<path fill="#49ffad" fill-rule="evenodd" d="M680.6 192.4L682.5 192.4L682.5 193.1ZM595.4 265.8L600.4 264.5L614 264.3L627.6 264.5L640.6 265.8L641.2 267.8L642.1 271.9L642.1 278L641.2 282.1L640.6 284.1L638.6 290.3L629.4 296.4L627.6 296.7L614 298L600.4 298.8L594.9 299.1L586.8 299.3L573.2 299.5L559.6 297.2L558 296.4L554.6 290.3L554.8 284.1L559.6 278.4L564.1 278L573.2 277.3L586.8 276.3L594.6 271.9L594.9 271.4Z"/>
<path fill="#6aff8d" fill-rule="evenodd" d="M596 265.8L600.4 264.7L614 264.4L627.6 264.6L639.2 265.8L640.9 271.9L640.9 278L639.2 284.1L637 290.3L627.6 296.2L626.8 296.4L614 297.6L600.4 298.4L594.9 298.8L586.8 299L573.2 299.2L559.6 296.8L558.8 296.4L555.3 290.3L555.5 284.1L559.6 279.2L573.2 278.1L586.8 278.1L587.5 278L594.9 273.7L595.4 271.9Z"/>
<path fill="#8dff6a" fill-rule="evenodd" d="M596.6 265.8L600.4 264.8L614 264.6L627.6 264.8L637.8 265.8L639.5 271.9L639.5 278L637.8 284.1L635.3 290.3L627.6 295.1L623 296.4L614 297.2L600.4 298.1L594.9 298.5L586.8 298.7L573.2 298.9L559.6 296.4L559.6 296.4L555.9 290.3L556.2 284.1L559.6 280.1L573.2 278.6L586.8 278.7L590.9 278L594.9 275.7L596 271.9Z"/>
<path fill="#b1ff46" fill-rule="evenodd" d="M597.1 265.8L600.4 265L614 264.7L627.6 264.9L636.4 265.8L638.1 271.9L638.1 278L636.4 284.1L633.7 290.3L627.6 294.1L619.3 296.4L614 296.9L600.4 297.8L594.9 298.2L586.8 298.5L573.2 298.7L561 296.4L559.6 295.2L556.6 290.3L556.9 284.1L559.6 280.9L573.2 279.1L586.8 279.2L594.3 278L594.9 277.6L596.5 271.9Z"/>
<path fill="#d1ff26" fill-rule="evenodd" d="M597.7 265.8L600.4 265.1L614 264.8L627.6 265.1L634.9 265.8L636.6 271.9L636.6 278L634.9 284.1L632.1 290.3L627.6 293.1L615.5 296.4L614 296.5L600.4 297.5L594.9 297.9L586.8 298.2L573.2 298.4L562.4 296.4L559.6 294.1L557.3 290.3L557.6 284.1L559.6 281.8L573.2 279.7L586.8 279.7L594.9 278.6L595.5 278L597 271.9Z"/>
<path fill="#f4f802" fill-rule="evenodd" d="M598.3 265.8L600.4 265.3L614 265L627.6 265.2L633.5 265.8L635.2 271.9L635.2 278L633.5 284.1L630.5 290.3L627.6 292.1L614 295.7L611.1 296.4L600.4 297.1L594.9 297.6L586.8 297.9L573.2 298.1L563.8 296.4L559.6 292.9L558 290.3L558.3 284.1L559.6 282.6L573.2 280.2L586.8 280.3L594.9 279.3L596.1 278L597.5 271.9Z"/>
<path fill="#ffd000" fill-rule="evenodd" d="M598.8 265.8L600.4 265.4L614 265.1L627.6 265.3L632.1 265.8L633.8 271.9L633.8 278L632.1 284.1L628.9 290.3L627.6 291.1L614 294.5L606.4 296.4L600.4 296.8L594.9 297.3L586.8 297.6L573.2 297.9L565.3 296.4L559.6 291.7L558.7 290.3L559 284.1L559.6 283.5L573.2 280.7L586.8 280.8L594.9 279.9L596.8 278L598.1 271.9Z"/>
<path fill="#ffab00" fill-rule="evenodd" d="M599.4 265.8L600.4 265.5L614 265.2L627.6 265.5L630.7 265.8L632.4 271.9L632.4 278L630.7 284.1L627.6 289.7L626.6 290.3L614 293.4L601.7 296.4L600.4 296.5L594.9 297L586.8 297.3L573.2 297.6L566.7 296.4L559.6 290.6L559.4 290.3L559.6 286.7L560 284.1L573.2 281.2L586.8 281.3L594.9 280.6L597.4 278L598.6 271.9Z"/>
<path fill="#ff8200" fill-rule="evenodd" d="M600 265.8L600.4 265.7L614 265.4L627.6 265.6L629.3 265.8L631 271.9L631 278L629.3 284.1L627.6 287.2L621.9 290.3L614 292.2L600.4 295.2L598.3 296.4L594.9 296.7L586.8 297L573.2 297.3L568.1 296.4L561.2 290.3L562.3 284.1L573.2 281.7L586.8 281.8L594.9 281.3L598.1 278L599.1 271.9Z"/>
<path fill="#ff5900" fill-rule="evenodd" d="M602 265.8L614 265.5L627.6 265.8L627.9 265.8L629.6 271.9L629.6 278L627.9 284.1L627.6 284.6L617.2 290.3L614 291L600.4 293.6L595.5 296.4L594.9 296.4L586.8 296.8L573.2 297.1L569.5 296.4L563.5 290.3L564.6 284.1L573.2 282.2L586.8 282.4L594.9 282L598.7 278L599.6 271.9L600.4 266.8Z"/>
<path fill="#ff3400" fill-rule="evenodd" d="M607.6 265.8L614 265.6L621.9 265.8L627.6 269.9L628.1 271.9L628.1 278L627.6 280.1L621.9 284.1L614 288.9L611 290.3L600.4 292L594.9 294.3L589.5 296.4L586.8 296.5L573.2 296.8L570.9 296.4L565.8 290.3L566.8 284.1L573.2 282.7L586.8 282.9L594.9 282.7L599.3 278L600.2 271.9L600.4 270.4Z"/>
<path fill="#f60b00" fill-rule="evenodd" d="M613.3 265.8L614 265.8L614.8 265.8L620.8 271.9L620.8 278L614.8 284.1L614 284.6L601.5 290.3L600.4 290.4L594.9 291.8L586.8 294.5L580 296.4L573.2 296.5L572.3 296.4L568 290.3L569.1 284.1L573.2 283.2L586.8 283.4L594.9 283.4L600 278L600.4 275L607.2 271.9Z"/>
<path fill="#c40000" fill-rule="evenodd" d="M571.4 284.1L573.2 283.7L586.8 284L594.9 284.1L595.9 284.1L594.9 285.2L590.4 290.3L586.8 291.3L573.2 294.9L570.3 290.3Z"/>
<path fill="#960000" fill-rule="evenodd" d="M572.6 290.3L573.2 286.7L577.2 290.3L573.2 291.3Z"/>
</g>
<line x1="573.19" y1="309.70" x2="573.19" y2="307.10" stroke="#fff" stroke-width="0.9"/>
<line x1="573.19" y1="192.40" x2="573.19" y2="195.00" stroke="#fff" stroke-width="0.9"/>
<line x1="600.38" y1="309.70" x2="600.38" y2="307.10" stroke="#fff" stroke-width="0.9"/>
<line x1="600.38" y1="192.40" x2="600.38" y2="195.00" stroke="#fff" stroke-width="0.9"/>
<line x1="627.57" y1="309.70" x2="627.57" y2="307.10" stroke="#fff" stroke-width="0.9"/>
<line x1="627.57" y1="192.40" x2="627.57" y2="195.00" stroke="#fff" stroke-width="0.9"/>
<line x1="654.76" y1="309.70" x2="654.76" y2="307.10" stroke="#fff" stroke-width="0.9"/>
<line x1="654.76" y1="192.40" x2="654.76" y2="195.00" stroke="#fff" stroke-width="0.9"/>
<line x1="546.00" y1="302.48" x2="548.60" y2="302.48" stroke="#fff" stroke-width="0.9"/>
<line x1="682.50" y1="302.48" x2="679.90" y2="302.48" stroke="#fff" stroke-width="0.9"/>
<line x1="546.00" y1="278.02" x2="548.60" y2="278.02" stroke="#fff" stroke-width="0.9"/>
<line x1="682.50" y1="278.02" x2="679.90" y2="278.02" stroke="#fff" stroke-width="0.9"/>
<line x1="546.00" y1="253.56" x2="548.60" y2="253.56" stroke="#fff" stroke-width="0.9"/>
<line x1="682.50" y1="253.56" x2="679.90" y2="253.56" stroke="#fff" stroke-width="0.9"/>
<line x1="546.00" y1="229.09" x2="548.60" y2="229.09" stroke="#fff" stroke-width="0.9"/>
<line x1="682.50" y1="229.09" x2="679.90" y2="229.09" stroke="#fff" stroke-width="0.9"/>
<line x1="546.00" y1="204.63" x2="548.60" y2="204.63" stroke="#fff" stroke-width="0.9"/>
<line x1="682.50" y1="204.63" x2="679.90" y2="204.63" stroke="#fff" stroke-width="0.9"/>
<rect x="546.00" y="192.40" width="136.50" height="117.30" fill="none" stroke="#2a2a2a" stroke-width="0.9"/>
<text x="662.96" y="306.10" font-size="10" textLength="14.35" lengthAdjust="spacingAndGlyphs" fill="#fff">WT</text>
<text x="17.08" y="179.41" font-size="10.3" textLength="10.31" lengthAdjust="spacingAndGlyphs" fill="#000">15</text>
<text x="17.08" y="155.03" font-size="10.3" textLength="10.31" lengthAdjust="spacingAndGlyphs" fill="#000">25</text>
<text x="17.08" y="130.65" font-size="10.3" textLength="10.31" lengthAdjust="spacingAndGlyphs" fill="#000">35</text>
<text x="17.08" y="106.27" font-size="10.3" textLength="10.31" lengthAdjust="spacingAndGlyphs" fill="#000">45</text>
<text x="17.08" y="81.89" font-size="10.3" textLength="10.31" lengthAdjust="spacingAndGlyphs" fill="#000">55</text>
<text x="17.08" y="305.16" font-size="10.3" textLength="10.31" lengthAdjust="spacingAndGlyphs" fill="#000">15</text>
<text x="17.08" y="280.61" font-size="10.3" textLength="10.31" lengthAdjust="spacingAndGlyphs" fill="#000">25</text>
<text x="17.08" y="256.07" font-size="10.3" textLength="10.31" lengthAdjust="spacingAndGlyphs" fill="#000">35</text>
<text x="17.08" y="231.52" font-size="10.3" textLength="10.31" lengthAdjust="spacingAndGlyphs" fill="#000">45</text>
<text x="17.08" y="206.97" font-size="10.3" textLength="10.31" lengthAdjust="spacingAndGlyphs" fill="#000">55</text>
<text x="373.28" y="180.28" font-size="10.3" textLength="10.31" lengthAdjust="spacingAndGlyphs" fill="#000">15</text>
<text x="373.28" y="155.82" font-size="10.3" textLength="10.31" lengthAdjust="spacingAndGlyphs" fill="#000">25</text>
<text x="373.28" y="131.36" font-size="10.3" textLength="10.31" lengthAdjust="spacingAndGlyphs" fill="#000">35</text>
<text x="373.28" y="106.89" font-size="10.3" textLength="10.31" lengthAdjust="spacingAndGlyphs" fill="#000">45</text>
<text x="373.28" y="82.43" font-size="10.3" textLength="10.31" lengthAdjust="spacingAndGlyphs" fill="#000">55</text>
<text x="373.28" y="305.78" font-size="10.3" textLength="10.31" lengthAdjust="spacingAndGlyphs" fill="#000">15</text>
<text x="373.28" y="281.32" font-size="10.3" textLength="10.31" lengthAdjust="spacingAndGlyphs" fill="#000">25</text>
<text x="373.28" y="256.86" font-size="10.3" textLength="10.31" lengthAdjust="spacingAndGlyphs" fill="#000">35</text>
<text x="373.28" y="232.39" font-size="10.3" textLength="10.31" lengthAdjust="spacingAndGlyphs" fill="#000">45</text>
<text x="373.28" y="207.93" font-size="10.3" textLength="10.31" lengthAdjust="spacingAndGlyphs" fill="#000">55</text>
<text x="28.31" y="320.50" font-size="10.3" textLength="5.44" lengthAdjust="spacingAndGlyphs" fill="#000">3</text>
<text x="55.64" y="320.50" font-size="10.3" textLength="5.44" lengthAdjust="spacingAndGlyphs" fill="#000">4</text>
<text x="82.95" y="320.50" font-size="10.3" textLength="5.44" lengthAdjust="spacingAndGlyphs" fill="#000">5</text>
<text x="110.24" y="320.50" font-size="10.3" textLength="5.44" lengthAdjust="spacingAndGlyphs" fill="#000">6</text>
<text x="137.60" y="320.50" font-size="10.3" textLength="5.44" lengthAdjust="spacingAndGlyphs" fill="#000">7</text>
<text x="164.93" y="320.50" font-size="10.3" textLength="5.44" lengthAdjust="spacingAndGlyphs" fill="#000">8</text>
<text x="186.51" y="320.50" font-size="10.3" textLength="5.44" lengthAdjust="spacingAndGlyphs" fill="#000">3</text>
<text x="213.88" y="320.50" font-size="10.3" textLength="5.44" lengthAdjust="spacingAndGlyphs" fill="#000">4</text>
<text x="241.23" y="320.50" font-size="10.3" textLength="5.44" lengthAdjust="spacingAndGlyphs" fill="#000">5</text>
<text x="268.56" y="320.50" font-size="10.3" textLength="5.44" lengthAdjust="spacingAndGlyphs" fill="#000">6</text>
<text x="295.96" y="320.50" font-size="10.3" textLength="5.44" lengthAdjust="spacingAndGlyphs" fill="#000">7</text>
<text x="323.33" y="320.50" font-size="10.3" textLength="5.44" lengthAdjust="spacingAndGlyphs" fill="#000">8</text>
<text x="384.51" y="321.50" font-size="10.3" textLength="5.44" lengthAdjust="spacingAndGlyphs" fill="#000">3</text>
<text x="411.86" y="321.50" font-size="10.3" textLength="5.44" lengthAdjust="spacingAndGlyphs" fill="#000">4</text>
<text x="439.19" y="321.50" font-size="10.3" textLength="5.44" lengthAdjust="spacingAndGlyphs" fill="#000">5</text>
<text x="466.50" y="321.50" font-size="10.3" textLength="5.44" lengthAdjust="spacingAndGlyphs" fill="#000">6</text>
<text x="493.88" y="321.50" font-size="10.3" textLength="5.44" lengthAdjust="spacingAndGlyphs" fill="#000">7</text>
<text x="521.23" y="321.50" font-size="10.3" textLength="5.44" lengthAdjust="spacingAndGlyphs" fill="#000">8</text>
<text x="543.31" y="321.50" font-size="10.3" textLength="5.44" lengthAdjust="spacingAndGlyphs" fill="#000">3</text>
<text x="570.50" y="321.50" font-size="10.3" textLength="5.44" lengthAdjust="spacingAndGlyphs" fill="#000">4</text>
<text x="597.67" y="321.50" font-size="10.3" textLength="5.44" lengthAdjust="spacingAndGlyphs" fill="#000">5</text>
<text x="624.82" y="321.50" font-size="10.3" textLength="5.44" lengthAdjust="spacingAndGlyphs" fill="#000">6</text>
<text x="652.04" y="321.50" font-size="10.3" textLength="5.44" lengthAdjust="spacingAndGlyphs" fill="#000">7</text>
<text x="679.24" y="321.50" font-size="10.3" textLength="5.44" lengthAdjust="spacingAndGlyphs" fill="#000">8</text>
<text x="61.62" y="334.30" font-size="10" textLength="71.80" lengthAdjust="spacingAndGlyphs" fill="#000">Phase frequency</text>
<text x="220.12" y="334.30" font-size="10" textLength="71.60" lengthAdjust="spacingAndGlyphs" fill="#000">Phase frequency</text>
<text x="418.31" y="335.20" font-size="10" textLength="72.01" lengthAdjust="spacingAndGlyphs" fill="#000">Phase frequency</text>
<text x="577.61" y="335.20" font-size="10" textLength="72.11" lengthAdjust="spacingAndGlyphs" fill="#000">Phase frequency</text>
<text transform="rotate(-90)" x="-172.02" y="9.60" font-size="10" textLength="90.34" lengthAdjust="spacingAndGlyphs" fill="#000">Amplitude frequency</text>
<text transform="rotate(-90)" x="-298.52" y="9.60" font-size="10" textLength="90.64" lengthAdjust="spacingAndGlyphs" fill="#000">Amplitude frequency</text>
<text transform="rotate(-90)" x="-175.92" y="366.00" font-size="10" textLength="90.64" lengthAdjust="spacingAndGlyphs" fill="#000">Amplitude frequency</text>
<text transform="rotate(-90)" x="-300.92" y="366.00" font-size="10" textLength="89.94" lengthAdjust="spacingAndGlyphs" fill="#000">Amplitude frequency</text>
<text x="44.38" y="61.30" font-size="10" textLength="109.46" lengthAdjust="spacingAndGlyphs" fill="#000">Median noise-subtracted</text>
<text x="204.85" y="61.50" font-size="10" textLength="106.18" lengthAdjust="spacingAndGlyphs" fill="#000">99% CI noise-subtracted</text>
<text x="399.98" y="62.20" font-size="10" textLength="109.87" lengthAdjust="spacingAndGlyphs" fill="#000">Median noise-subtracted</text>
<text x="561.35" y="62.20" font-size="10" textLength="105.57" lengthAdjust="spacingAndGlyphs" fill="#000">99% CI noise-subtracted</text>
<linearGradient id="cba" x1="0" x2="1" y1="0" y2="0"><stop offset="0" stop-color="#000080"/><stop offset="0.125" stop-color="#0000ff"/><stop offset="0.375" stop-color="#16ffe1"/><stop offset="0.625" stop-color="#e4ff13"/><stop offset="0.875" stop-color="#ff1e00"/><stop offset="1" stop-color="#800000"/></linearGradient>
<rect x="126.00" y="13.80" width="159.80" height="7.60" fill="url(#cba)" stroke="#333" stroke-width="0.8"/>
<line x1="162.10" y1="21.40" x2="162.10" y2="19.90" stroke="#222" stroke-width="0.7"/>
<line x1="198.20" y1="21.40" x2="198.20" y2="19.90" stroke="#222" stroke-width="0.7"/>
<line x1="234.30" y1="21.40" x2="234.30" y2="19.90" stroke="#222" stroke-width="0.7"/>
<line x1="270.40" y1="21.40" x2="270.40" y2="19.90" stroke="#222" stroke-width="0.7"/>
<text x="123.41" y="31.80" font-size="10.0" textLength="5.17" lengthAdjust="spacingAndGlyphs" fill="#000">0</text>
<text x="155.59" y="31.80" font-size="10.0" textLength="12.93" lengthAdjust="spacingAndGlyphs" fill="#000">0.4</text>
<text x="191.76" y="31.80" font-size="10.0" textLength="12.93" lengthAdjust="spacingAndGlyphs" fill="#000">0.8</text>
<text x="227.72" y="31.80" font-size="10.0" textLength="12.93" lengthAdjust="spacingAndGlyphs" fill="#000">1.2</text>
<text x="263.79" y="31.80" font-size="10.0" textLength="12.93" lengthAdjust="spacingAndGlyphs" fill="#000">1.6</text>
<text x="164.16" y="42.80" font-size="9.8" textLength="77.45" lengthAdjust="spacingAndGlyphs" fill="#000">Modulation index</text>
<path d="M289.10 20.30L293.00 24.50M289.10 24.50L293.00 20.30" stroke="#111" stroke-width="0.75" fill="none"/>
<text x="293.48" y="24.60" font-size="9.8" textLength="10.49" lengthAdjust="spacingAndGlyphs" fill="#000">10</text>
<line x1="305.30" y1="17.60" x2="308.30" y2="17.60" stroke="#111" stroke-width="0.8"/>
<text x="308.36" y="20.40" font-size="9.6" textLength="5.74" lengthAdjust="spacingAndGlyphs" fill="#000">4</text>
<linearGradient id="cbb" x1="0" x2="1" y1="0" y2="0"><stop offset="0" stop-color="#000080"/><stop offset="0.125" stop-color="#0000ff"/><stop offset="0.375" stop-color="#16ffe1"/><stop offset="0.625" stop-color="#e4ff13"/><stop offset="0.875" stop-color="#ff1e00"/><stop offset="1" stop-color="#800000"/></linearGradient>
<rect x="482.70" y="14.50" width="159.30" height="7.30" fill="url(#cbb)" stroke="#333" stroke-width="0.8"/>
<line x1="510.05" y1="21.80" x2="510.05" y2="20.30" stroke="#222" stroke-width="0.7"/>
<line x1="537.40" y1="21.80" x2="537.40" y2="20.30" stroke="#222" stroke-width="0.7"/>
<line x1="564.75" y1="21.80" x2="564.75" y2="20.30" stroke="#222" stroke-width="0.7"/>
<line x1="592.10" y1="21.80" x2="592.10" y2="20.30" stroke="#222" stroke-width="0.7"/>
<line x1="619.45" y1="21.80" x2="619.45" y2="20.30" stroke="#222" stroke-width="0.7"/>
<text x="480.11" y="32.90" font-size="10.0" textLength="5.17" lengthAdjust="spacingAndGlyphs" fill="#000">0</text>
<text x="503.60" y="32.90" font-size="10.0" textLength="12.93" lengthAdjust="spacingAndGlyphs" fill="#000">0.5</text>
<text x="530.76" y="32.90" font-size="10.0" textLength="12.93" lengthAdjust="spacingAndGlyphs" fill="#000">1.0</text>
<text x="558.13" y="32.90" font-size="10.0" textLength="12.93" lengthAdjust="spacingAndGlyphs" fill="#000">1.5</text>
<text x="585.58" y="32.90" font-size="10.0" textLength="12.93" lengthAdjust="spacingAndGlyphs" fill="#000">2.0</text>
<text x="612.95" y="32.90" font-size="10.0" textLength="12.93" lengthAdjust="spacingAndGlyphs" fill="#000">2.5</text>
<text x="523.06" y="43.50" font-size="9.8" textLength="77.45" lengthAdjust="spacingAndGlyphs" fill="#000">Modulation index</text>
<path d="M645.10 21.30L649.30 25.50M645.10 25.50L649.30 21.30" stroke="#111" stroke-width="0.75" fill="none"/>
<text x="649.70" y="25.60" font-size="9.8" textLength="10.26" lengthAdjust="spacingAndGlyphs" fill="#000">10</text>
<line x1="661.80" y1="18.60" x2="664.30" y2="18.60" stroke="#111" stroke-width="0.8"/>
<text x="664.36" y="21.40" font-size="9.6" textLength="5.74" lengthAdjust="spacingAndGlyphs" fill="#000">4</text>
<g transform="translate(0.00 0.00)"><linearGradient id="cyl0" x1="0" x2="0" y1="0" y2="1"><stop offset="0" stop-color="#d8d8d8"/><stop offset="0.45" stop-color="#e4e4e4"/><stop offset="1" stop-color="#9a9a9a"/></linearGradient><path d="M68 14 L86.8 14.4 L86.8 28.6 L68 26 Z" fill="#adadad" stroke="#3a3a3a" stroke-width="0.9"/><path d="M61 27.6 L73 30.6 M62 26.8 L69.5 27.3" stroke="#6a6a6a" stroke-width="0.5" fill="none"/><g transform="translate(43.4 39.5) rotate(-28.4)"><rect x="0" y="-4.9" width="17.5" height="9.8" fill="url(#cyl0)"/><rect x="5.5" y="-5.2" width="6.5" height="10.4" rx="1" fill="#8e8e8e"/><ellipse cx="17.5" cy="0" rx="2.2" ry="4.9" fill="#d2d2d2"/><ellipse cx="0" cy="0" rx="3.4" ry="4.9" fill="#ececec" stroke="#c4c4c4" stroke-width="0.5"/></g><rect x="51.7" y="25.8" width="1.5" height="4.6" fill="#858585"/><circle cx="58.6" cy="28.6" r="1.3" fill="#2a2018"/><circle cx="60.6" cy="27.4" r="1.0" fill="#3a2a1a"/><circle cx="61.4" cy="29.6" r="0.8" fill="#262626"/><circle cx="59.6" cy="26.6" r="0.6" fill="#c8a060"/><path d="M53.3 21.4 C56.5 21.2 59.5 22.3 61.6 25.4" stroke="#3d7f45" stroke-width="1.3" fill="none"/></g>
<g transform="translate(356.20 0.40)"><linearGradient id="cyl356" x1="0" x2="0" y1="0" y2="1"><stop offset="0" stop-color="#d8d8d8"/><stop offset="0.45" stop-color="#e4e4e4"/><stop offset="1" stop-color="#9a9a9a"/></linearGradient><path d="M68 14 L86.8 14.4 L86.8 28.6 L68 26 Z" fill="#adadad" stroke="#3a3a3a" stroke-width="0.9"/><path d="M61 27.6 L73 30.6 M62 26.8 L69.5 27.3" stroke="#6a6a6a" stroke-width="0.5" fill="none"/><g transform="translate(43.4 39.5) rotate(-28.4)"><rect x="0" y="-4.9" width="17.5" height="9.8" fill="url(#cyl356)"/><rect x="5.5" y="-5.2" width="6.5" height="10.4" rx="1" fill="#8e8e8e"/><ellipse cx="17.5" cy="0" rx="2.2" ry="4.9" fill="#d2d2d2"/><ellipse cx="0" cy="0" rx="3.4" ry="4.9" fill="#ececec" stroke="#c4c4c4" stroke-width="0.5"/></g><rect x="51.7" y="25.8" width="1.5" height="4.6" fill="#858585"/><circle cx="58.6" cy="28.6" r="1.3" fill="#2a2018"/><circle cx="60.6" cy="27.4" r="1.0" fill="#3a2a1a"/><circle cx="61.4" cy="29.6" r="0.8" fill="#262626"/><circle cx="59.6" cy="26.6" r="0.6" fill="#c8a060"/><path d="M53.3 21.4 C56.5 21.2 59.5 22.3 61.6 25.4" stroke="#3d7f45" stroke-width="1.3" fill="none"/></g>
<text x="44.90" y="19.90" font-size="9.5" textLength="15.65" lengthAdjust="spacingAndGlyphs" fill="#000">LFP</text>
<text x="65.23" y="39.40" font-size="9.5" textLength="51.39" lengthAdjust="spacingAndGlyphs" fill="#000">Gray screen</text>
<text x="400.95" y="20.60" font-size="9.5" textLength="16.73" lengthAdjust="spacingAndGlyphs" fill="#000">LFP</text>
<text x="421.23" y="40.20" font-size="9.5" textLength="51.18" lengthAdjust="spacingAndGlyphs" fill="#000">Gray screen</text>
<text x="-0.90" y="7.50" font-size="10" textLength="5.20" lengthAdjust="spacingAndGlyphs" fill="#000">a</text>
<text x="353.20" y="7.60" font-size="10" textLength="6.06" lengthAdjust="spacingAndGlyphs" fill="#000">b</text>
<rect x="45.25" y="425.30" width="3.43" height="59.10" fill="#ff0000" stroke="#000" stroke-width="0.75"/>
<rect x="48.68" y="427.60" width="3.43" height="56.80" fill="#ff0000" stroke="#000" stroke-width="0.75"/>
<rect x="52.11" y="429.10" width="3.43" height="55.30" fill="#ff0000" stroke="#000" stroke-width="0.75"/>
<rect x="55.54" y="429.80" width="3.43" height="54.60" fill="#ff0000" stroke="#000" stroke-width="0.75"/>
<rect x="58.97" y="430.40" width="3.43" height="54.00" fill="#ff0000" stroke="#000" stroke-width="0.75"/>
<rect x="62.40" y="427.70" width="3.43" height="56.70" fill="#ff0000" stroke="#000" stroke-width="0.75"/>
<rect x="65.83" y="426.30" width="3.43" height="58.10" fill="#ff0000" stroke="#000" stroke-width="0.75"/>
<rect x="69.26" y="424.60" width="3.43" height="59.80" fill="#ff0000" stroke="#000" stroke-width="0.75"/>
<rect x="72.69" y="422.60" width="3.43" height="61.80" fill="#ff0000" stroke="#000" stroke-width="0.75"/>
<rect x="76.12" y="419.70" width="3.43" height="64.70" fill="#ff0000" stroke="#000" stroke-width="0.75"/>
<rect x="79.55" y="417.50" width="3.43" height="66.90" fill="#ff0000" stroke="#000" stroke-width="0.75"/>
<rect x="82.98" y="415.70" width="3.43" height="68.70" fill="#ff0000" stroke="#000" stroke-width="0.75"/>
<rect x="86.41" y="414.80" width="3.43" height="69.60" fill="#ff0000" stroke="#000" stroke-width="0.75"/>
<rect x="89.84" y="416.20" width="3.43" height="68.20" fill="#ff0000" stroke="#000" stroke-width="0.75"/>
<rect x="93.27" y="415.30" width="3.43" height="69.10" fill="#ff0000" stroke="#000" stroke-width="0.75"/>
<rect x="96.70" y="416.50" width="3.43" height="67.90" fill="#ff0000" stroke="#000" stroke-width="0.75"/>
<rect x="100.13" y="418.20" width="3.43" height="66.20" fill="#ff0000" stroke="#000" stroke-width="0.75"/>
<rect x="103.56" y="421.70" width="3.43" height="62.70" fill="#ff0000" stroke="#000" stroke-width="0.75"/>
<line x1="46.97" y1="423.70" x2="46.97" y2="426.90" stroke="#111" stroke-width="0.8"/>
<line x1="46.07" y1="423.70" x2="47.87" y2="423.70" stroke="#111" stroke-width="0.7"/>
<line x1="50.40" y1="426.00" x2="50.40" y2="429.20" stroke="#111" stroke-width="0.8"/>
<line x1="49.50" y1="426.00" x2="51.30" y2="426.00" stroke="#111" stroke-width="0.7"/>
<line x1="53.83" y1="427.50" x2="53.83" y2="430.70" stroke="#111" stroke-width="0.8"/>
<line x1="52.93" y1="427.50" x2="54.73" y2="427.50" stroke="#111" stroke-width="0.7"/>
<line x1="57.26" y1="428.20" x2="57.26" y2="431.40" stroke="#111" stroke-width="0.8"/>
<line x1="56.36" y1="428.20" x2="58.16" y2="428.20" stroke="#111" stroke-width="0.7"/>
<line x1="60.69" y1="428.80" x2="60.69" y2="432.00" stroke="#111" stroke-width="0.8"/>
<line x1="59.79" y1="428.80" x2="61.59" y2="428.80" stroke="#111" stroke-width="0.7"/>
<line x1="64.12" y1="426.10" x2="64.12" y2="429.30" stroke="#111" stroke-width="0.8"/>
<line x1="63.22" y1="426.10" x2="65.02" y2="426.10" stroke="#111" stroke-width="0.7"/>
<line x1="67.55" y1="424.70" x2="67.55" y2="427.90" stroke="#111" stroke-width="0.8"/>
<line x1="66.64" y1="424.70" x2="68.45" y2="424.70" stroke="#111" stroke-width="0.7"/>
<line x1="70.97" y1="423.00" x2="70.97" y2="426.20" stroke="#111" stroke-width="0.8"/>
<line x1="70.07" y1="423.00" x2="71.88" y2="423.00" stroke="#111" stroke-width="0.7"/>
<line x1="74.41" y1="421.00" x2="74.41" y2="424.20" stroke="#111" stroke-width="0.8"/>
<line x1="73.50" y1="421.00" x2="75.31" y2="421.00" stroke="#111" stroke-width="0.7"/>
<line x1="77.84" y1="418.10" x2="77.84" y2="421.30" stroke="#111" stroke-width="0.8"/>
<line x1="76.94" y1="418.10" x2="78.74" y2="418.10" stroke="#111" stroke-width="0.7"/>
<line x1="81.27" y1="415.90" x2="81.27" y2="419.10" stroke="#111" stroke-width="0.8"/>
<line x1="80.36" y1="415.90" x2="82.17" y2="415.90" stroke="#111" stroke-width="0.7"/>
<line x1="84.69" y1="414.10" x2="84.69" y2="417.30" stroke="#111" stroke-width="0.8"/>
<line x1="83.79" y1="414.10" x2="85.59" y2="414.10" stroke="#111" stroke-width="0.7"/>
<line x1="88.12" y1="413.20" x2="88.12" y2="416.40" stroke="#111" stroke-width="0.8"/>
<line x1="87.22" y1="413.20" x2="89.03" y2="413.20" stroke="#111" stroke-width="0.7"/>
<line x1="91.56" y1="414.60" x2="91.56" y2="417.80" stroke="#111" stroke-width="0.8"/>
<line x1="90.66" y1="414.60" x2="92.46" y2="414.60" stroke="#111" stroke-width="0.7"/>
<line x1="94.98" y1="413.70" x2="94.98" y2="416.90" stroke="#111" stroke-width="0.8"/>
<line x1="94.08" y1="413.70" x2="95.89" y2="413.70" stroke="#111" stroke-width="0.7"/>
<line x1="98.41" y1="414.90" x2="98.41" y2="418.10" stroke="#111" stroke-width="0.8"/>
<line x1="97.51" y1="414.90" x2="99.31" y2="414.90" stroke="#111" stroke-width="0.7"/>
<line x1="101.84" y1="416.60" x2="101.84" y2="419.80" stroke="#111" stroke-width="0.8"/>
<line x1="100.94" y1="416.60" x2="102.75" y2="416.60" stroke="#111" stroke-width="0.7"/>
<line x1="105.28" y1="420.10" x2="105.28" y2="423.30" stroke="#111" stroke-width="0.8"/>
<line x1="104.38" y1="420.10" x2="106.18" y2="420.10" stroke="#111" stroke-width="0.7"/>
<rect x="121.90" y="418.90" width="3.43" height="65.50" fill="#6a6a6a" stroke="#000" stroke-width="0.75"/>
<rect x="125.33" y="423.40" width="3.43" height="61.00" fill="#6a6a6a" stroke="#000" stroke-width="0.75"/>
<rect x="128.76" y="427.90" width="3.43" height="56.50" fill="#6a6a6a" stroke="#000" stroke-width="0.75"/>
<rect x="132.19" y="431.40" width="3.43" height="53.00" fill="#6a6a6a" stroke="#000" stroke-width="0.75"/>
<rect x="135.62" y="434.30" width="3.43" height="50.10" fill="#6a6a6a" stroke="#000" stroke-width="0.75"/>
<rect x="139.05" y="433.20" width="3.43" height="51.20" fill="#6a6a6a" stroke="#000" stroke-width="0.75"/>
<rect x="142.48" y="431.50" width="3.43" height="52.90" fill="#6a6a6a" stroke="#000" stroke-width="0.75"/>
<rect x="145.91" y="429.70" width="3.43" height="54.70" fill="#6a6a6a" stroke="#000" stroke-width="0.75"/>
<rect x="149.34" y="428.50" width="3.43" height="55.90" fill="#6a6a6a" stroke="#000" stroke-width="0.75"/>
<rect x="152.77" y="426.70" width="3.43" height="57.70" fill="#6a6a6a" stroke="#000" stroke-width="0.75"/>
<rect x="156.20" y="422.40" width="3.43" height="62.00" fill="#6a6a6a" stroke="#000" stroke-width="0.75"/>
<rect x="159.63" y="418.30" width="3.43" height="66.10" fill="#6a6a6a" stroke="#000" stroke-width="0.75"/>
<rect x="163.06" y="415.50" width="3.43" height="68.90" fill="#6a6a6a" stroke="#000" stroke-width="0.75"/>
<rect x="166.49" y="413.60" width="3.43" height="70.80" fill="#6a6a6a" stroke="#000" stroke-width="0.75"/>
<rect x="169.92" y="409.30" width="3.43" height="75.10" fill="#6a6a6a" stroke="#000" stroke-width="0.75"/>
<rect x="173.35" y="408.50" width="3.43" height="75.90" fill="#6a6a6a" stroke="#000" stroke-width="0.75"/>
<rect x="176.78" y="410.70" width="3.43" height="73.70" fill="#6a6a6a" stroke="#000" stroke-width="0.75"/>
<rect x="180.21" y="414.30" width="3.43" height="70.10" fill="#6a6a6a" stroke="#000" stroke-width="0.75"/>
<line x1="123.62" y1="417.30" x2="123.62" y2="420.50" stroke="#111" stroke-width="0.8"/>
<line x1="122.72" y1="417.30" x2="124.52" y2="417.30" stroke="#111" stroke-width="0.7"/>
<line x1="127.05" y1="421.80" x2="127.05" y2="425.00" stroke="#111" stroke-width="0.8"/>
<line x1="126.14" y1="421.80" x2="127.95" y2="421.80" stroke="#111" stroke-width="0.7"/>
<line x1="130.47" y1="426.30" x2="130.47" y2="429.50" stroke="#111" stroke-width="0.8"/>
<line x1="129.57" y1="426.30" x2="131.38" y2="426.30" stroke="#111" stroke-width="0.7"/>
<line x1="133.91" y1="429.80" x2="133.91" y2="433.00" stroke="#111" stroke-width="0.8"/>
<line x1="133.00" y1="429.80" x2="134.81" y2="429.80" stroke="#111" stroke-width="0.7"/>
<line x1="137.34" y1="432.70" x2="137.34" y2="435.90" stroke="#111" stroke-width="0.8"/>
<line x1="136.44" y1="432.70" x2="138.24" y2="432.70" stroke="#111" stroke-width="0.7"/>
<line x1="140.77" y1="431.60" x2="140.77" y2="434.80" stroke="#111" stroke-width="0.8"/>
<line x1="139.87" y1="431.60" x2="141.67" y2="431.60" stroke="#111" stroke-width="0.7"/>
<line x1="144.19" y1="429.90" x2="144.19" y2="433.10" stroke="#111" stroke-width="0.8"/>
<line x1="143.29" y1="429.90" x2="145.09" y2="429.90" stroke="#111" stroke-width="0.7"/>
<line x1="147.62" y1="428.10" x2="147.62" y2="431.30" stroke="#111" stroke-width="0.8"/>
<line x1="146.72" y1="428.10" x2="148.53" y2="428.10" stroke="#111" stroke-width="0.7"/>
<line x1="151.06" y1="426.90" x2="151.06" y2="430.10" stroke="#111" stroke-width="0.8"/>
<line x1="150.16" y1="426.90" x2="151.96" y2="426.90" stroke="#111" stroke-width="0.7"/>
<line x1="154.49" y1="425.10" x2="154.49" y2="428.30" stroke="#111" stroke-width="0.8"/>
<line x1="153.59" y1="425.10" x2="155.39" y2="425.10" stroke="#111" stroke-width="0.7"/>
<line x1="157.92" y1="420.80" x2="157.92" y2="424.00" stroke="#111" stroke-width="0.8"/>
<line x1="157.02" y1="420.80" x2="158.82" y2="420.80" stroke="#111" stroke-width="0.7"/>
<line x1="161.34" y1="416.70" x2="161.34" y2="419.90" stroke="#111" stroke-width="0.8"/>
<line x1="160.44" y1="416.70" x2="162.25" y2="416.70" stroke="#111" stroke-width="0.7"/>
<line x1="164.78" y1="413.90" x2="164.78" y2="417.10" stroke="#111" stroke-width="0.8"/>
<line x1="163.88" y1="413.90" x2="165.68" y2="413.90" stroke="#111" stroke-width="0.7"/>
<line x1="168.21" y1="412.00" x2="168.21" y2="415.20" stroke="#111" stroke-width="0.8"/>
<line x1="167.31" y1="412.00" x2="169.11" y2="412.00" stroke="#111" stroke-width="0.7"/>
<line x1="171.63" y1="407.70" x2="171.63" y2="410.90" stroke="#111" stroke-width="0.8"/>
<line x1="170.73" y1="407.70" x2="172.53" y2="407.70" stroke="#111" stroke-width="0.7"/>
<line x1="175.06" y1="406.90" x2="175.06" y2="410.10" stroke="#111" stroke-width="0.8"/>
<line x1="174.16" y1="406.90" x2="175.97" y2="406.90" stroke="#111" stroke-width="0.7"/>
<line x1="178.50" y1="409.10" x2="178.50" y2="412.30" stroke="#111" stroke-width="0.8"/>
<line x1="177.59" y1="409.10" x2="179.40" y2="409.10" stroke="#111" stroke-width="0.7"/>
<line x1="181.93" y1="412.70" x2="181.93" y2="415.90" stroke="#111" stroke-width="0.8"/>
<line x1="181.03" y1="412.70" x2="182.83" y2="412.70" stroke="#111" stroke-width="0.7"/>
<line x1="42.60" y1="366.30" x2="42.60" y2="484.50" stroke="#333" stroke-width="0.9"/>
<line x1="42.20" y1="484.50" x2="106.90" y2="484.50" stroke="#333" stroke-width="0.9"/>
<line x1="119.30" y1="484.50" x2="185.20" y2="484.50" stroke="#333" stroke-width="0.9"/>
<line x1="42.60" y1="366.80" x2="44.60" y2="366.80" stroke="#333" stroke-width="0.7"/>
<text x="15.70" y="370.30" font-size="10.3" textLength="24.23" lengthAdjust="spacingAndGlyphs" fill="#000">0.065</text>
<line x1="42.60" y1="396.10" x2="44.60" y2="396.10" stroke="#333" stroke-width="0.7"/>
<text x="18.40" y="399.60" font-size="10.3" textLength="18.84" lengthAdjust="spacingAndGlyphs" fill="#000">0.06</text>
<line x1="42.60" y1="425.50" x2="44.60" y2="425.50" stroke="#333" stroke-width="0.7"/>
<text x="15.70" y="429.00" font-size="10.3" textLength="24.23" lengthAdjust="spacingAndGlyphs" fill="#000">0.055</text>
<line x1="42.60" y1="454.90" x2="44.60" y2="454.90" stroke="#333" stroke-width="0.7"/>
<text x="18.39" y="458.40" font-size="10.3" textLength="18.84" lengthAdjust="spacingAndGlyphs" fill="#000">0.05</text>
<line x1="42.60" y1="484.30" x2="44.60" y2="484.30" stroke="#333" stroke-width="0.7"/>
<text x="15.70" y="487.80" font-size="10.3" textLength="24.23" lengthAdjust="spacingAndGlyphs" fill="#000">0.045</text>
<text transform="rotate(-90)" x="-479.42" y="11.80" font-size="10" textLength="94.84" lengthAdjust="spacingAndGlyphs" fill="#000">Amplitude probability</text>
<text x="42.48" y="494.30" font-size="10.3" textLength="5.44" lengthAdjust="spacingAndGlyphs" fill="#000">0</text>
<text x="62.36" y="494.30" font-size="10.3" textLength="16.33" lengthAdjust="spacingAndGlyphs" fill="#000">150</text>
<text x="87.84" y="494.30" font-size="10.3" textLength="16.33" lengthAdjust="spacingAndGlyphs" fill="#000">300</text>
<text x="119.88" y="494.30" font-size="10.3" textLength="5.44" lengthAdjust="spacingAndGlyphs" fill="#000">0</text>
<text x="140.06" y="494.30" font-size="10.3" textLength="16.33" lengthAdjust="spacingAndGlyphs" fill="#000">150</text>
<text x="165.34" y="494.30" font-size="10.3" textLength="16.33" lengthAdjust="spacingAndGlyphs" fill="#000">300</text>
<text x="79.24" y="505.60" font-size="10" textLength="64.24" lengthAdjust="spacingAndGlyphs" fill="#000">Phase angle (°)</text>
<rect x="85.50" y="378.50" width="5.80" height="5.60" fill="#ff0000" stroke="#222" stroke-width="0.7"/>
<text x="94.15" y="384.60" font-size="10" textLength="13.30" lengthAdjust="spacingAndGlyphs" fill="#000">KO</text>
<rect x="158.40" y="378.50" width="5.80" height="5.60" fill="#6a6a6a" stroke="#222" stroke-width="0.7"/>
<text x="166.66" y="384.60" font-size="10" textLength="13.13" lengthAdjust="spacingAndGlyphs" fill="#000">WT</text>
<text x="1.38" y="349.90" font-size="10" textLength="4.99" lengthAdjust="spacingAndGlyphs" fill="#000">c</text>
<rect x="403.40" y="422.40" width="3.33" height="63.00" fill="#9e3822" stroke="#000" stroke-width="0.75"/>
<rect x="406.73" y="429.50" width="3.33" height="55.90" fill="#9e3822" stroke="#000" stroke-width="0.75"/>
<rect x="410.07" y="432.40" width="3.33" height="53.00" fill="#9e3822" stroke="#000" stroke-width="0.75"/>
<rect x="413.40" y="432.60" width="3.33" height="52.80" fill="#9e3822" stroke="#000" stroke-width="0.75"/>
<rect x="416.74" y="434.20" width="3.33" height="51.20" fill="#9e3822" stroke="#000" stroke-width="0.75"/>
<rect x="420.07" y="431.90" width="3.33" height="53.50" fill="#9e3822" stroke="#000" stroke-width="0.75"/>
<rect x="423.41" y="429.30" width="3.33" height="56.10" fill="#9e3822" stroke="#000" stroke-width="0.75"/>
<rect x="426.75" y="428.70" width="3.33" height="56.70" fill="#9e3822" stroke="#000" stroke-width="0.75"/>
<rect x="430.08" y="427.50" width="3.33" height="57.90" fill="#9e3822" stroke="#000" stroke-width="0.75"/>
<rect x="433.41" y="423.60" width="3.33" height="61.80" fill="#9e3822" stroke="#000" stroke-width="0.75"/>
<rect x="436.75" y="419.40" width="3.33" height="66.00" fill="#9e3822" stroke="#000" stroke-width="0.75"/>
<rect x="440.08" y="417.50" width="3.33" height="67.90" fill="#9e3822" stroke="#000" stroke-width="0.75"/>
<rect x="443.42" y="416.80" width="3.33" height="68.60" fill="#9e3822" stroke="#000" stroke-width="0.75"/>
<rect x="446.75" y="416.60" width="3.33" height="68.80" fill="#9e3822" stroke="#000" stroke-width="0.75"/>
<rect x="450.09" y="413.50" width="3.33" height="71.90" fill="#9e3822" stroke="#000" stroke-width="0.75"/>
<rect x="453.42" y="412.30" width="3.33" height="73.10" fill="#9e3822" stroke="#000" stroke-width="0.75"/>
<rect x="456.76" y="412.10" width="3.33" height="73.30" fill="#9e3822" stroke="#000" stroke-width="0.75"/>
<rect x="460.09" y="415.60" width="3.33" height="69.80" fill="#9e3822" stroke="#000" stroke-width="0.75"/>
<line x1="405.07" y1="420.80" x2="405.07" y2="424.00" stroke="#111" stroke-width="0.8"/>
<line x1="404.17" y1="420.80" x2="405.97" y2="420.80" stroke="#111" stroke-width="0.7"/>
<line x1="408.40" y1="427.90" x2="408.40" y2="431.10" stroke="#111" stroke-width="0.8"/>
<line x1="407.50" y1="427.90" x2="409.30" y2="427.90" stroke="#111" stroke-width="0.7"/>
<line x1="411.74" y1="430.80" x2="411.74" y2="434.00" stroke="#111" stroke-width="0.8"/>
<line x1="410.84" y1="430.80" x2="412.64" y2="430.80" stroke="#111" stroke-width="0.7"/>
<line x1="415.07" y1="431.00" x2="415.07" y2="434.20" stroke="#111" stroke-width="0.8"/>
<line x1="414.17" y1="431.00" x2="415.97" y2="431.00" stroke="#111" stroke-width="0.7"/>
<line x1="418.41" y1="432.60" x2="418.41" y2="435.80" stroke="#111" stroke-width="0.8"/>
<line x1="417.51" y1="432.60" x2="419.31" y2="432.60" stroke="#111" stroke-width="0.7"/>
<line x1="421.74" y1="430.30" x2="421.74" y2="433.50" stroke="#111" stroke-width="0.8"/>
<line x1="420.84" y1="430.30" x2="422.64" y2="430.30" stroke="#111" stroke-width="0.7"/>
<line x1="425.08" y1="427.70" x2="425.08" y2="430.90" stroke="#111" stroke-width="0.8"/>
<line x1="424.18" y1="427.70" x2="425.98" y2="427.70" stroke="#111" stroke-width="0.7"/>
<line x1="428.41" y1="427.10" x2="428.41" y2="430.30" stroke="#111" stroke-width="0.8"/>
<line x1="427.51" y1="427.10" x2="429.31" y2="427.10" stroke="#111" stroke-width="0.7"/>
<line x1="431.75" y1="425.90" x2="431.75" y2="429.10" stroke="#111" stroke-width="0.8"/>
<line x1="430.85" y1="425.90" x2="432.65" y2="425.90" stroke="#111" stroke-width="0.7"/>
<line x1="435.08" y1="422.00" x2="435.08" y2="425.20" stroke="#111" stroke-width="0.8"/>
<line x1="434.18" y1="422.00" x2="435.98" y2="422.00" stroke="#111" stroke-width="0.7"/>
<line x1="438.42" y1="417.80" x2="438.42" y2="421.00" stroke="#111" stroke-width="0.8"/>
<line x1="437.52" y1="417.80" x2="439.32" y2="417.80" stroke="#111" stroke-width="0.7"/>
<line x1="441.75" y1="415.90" x2="441.75" y2="419.10" stroke="#111" stroke-width="0.8"/>
<line x1="440.85" y1="415.90" x2="442.65" y2="415.90" stroke="#111" stroke-width="0.7"/>
<line x1="445.09" y1="415.20" x2="445.09" y2="418.40" stroke="#111" stroke-width="0.8"/>
<line x1="444.19" y1="415.20" x2="445.99" y2="415.20" stroke="#111" stroke-width="0.7"/>
<line x1="448.42" y1="415.00" x2="448.42" y2="418.20" stroke="#111" stroke-width="0.8"/>
<line x1="447.52" y1="415.00" x2="449.32" y2="415.00" stroke="#111" stroke-width="0.7"/>
<line x1="451.76" y1="411.90" x2="451.76" y2="415.10" stroke="#111" stroke-width="0.8"/>
<line x1="450.86" y1="411.90" x2="452.66" y2="411.90" stroke="#111" stroke-width="0.7"/>
<line x1="455.09" y1="410.70" x2="455.09" y2="413.90" stroke="#111" stroke-width="0.8"/>
<line x1="454.19" y1="410.70" x2="455.99" y2="410.70" stroke="#111" stroke-width="0.7"/>
<line x1="458.43" y1="410.50" x2="458.43" y2="413.70" stroke="#111" stroke-width="0.8"/>
<line x1="457.53" y1="410.50" x2="459.33" y2="410.50" stroke="#111" stroke-width="0.7"/>
<line x1="461.76" y1="414.00" x2="461.76" y2="417.20" stroke="#111" stroke-width="0.8"/>
<line x1="460.86" y1="414.00" x2="462.66" y2="414.00" stroke="#111" stroke-width="0.7"/>
<rect x="477.40" y="418.30" width="3.34" height="67.10" fill="#6a6a6a" stroke="#000" stroke-width="0.75"/>
<rect x="480.74" y="428.20" width="3.34" height="57.20" fill="#6a6a6a" stroke="#000" stroke-width="0.75"/>
<rect x="484.08" y="433.60" width="3.34" height="51.80" fill="#6a6a6a" stroke="#000" stroke-width="0.75"/>
<rect x="487.42" y="437.30" width="3.34" height="48.10" fill="#6a6a6a" stroke="#000" stroke-width="0.75"/>
<rect x="490.76" y="439.20" width="3.34" height="46.20" fill="#6a6a6a" stroke="#000" stroke-width="0.75"/>
<rect x="494.10" y="439.70" width="3.34" height="45.70" fill="#6a6a6a" stroke="#000" stroke-width="0.75"/>
<rect x="497.44" y="438.20" width="3.34" height="47.20" fill="#6a6a6a" stroke="#000" stroke-width="0.75"/>
<rect x="500.78" y="437.30" width="3.34" height="48.10" fill="#6a6a6a" stroke="#000" stroke-width="0.75"/>
<rect x="504.12" y="434.40" width="3.34" height="51.00" fill="#6a6a6a" stroke="#000" stroke-width="0.75"/>
<rect x="507.46" y="430.10" width="3.34" height="55.30" fill="#6a6a6a" stroke="#000" stroke-width="0.75"/>
<rect x="510.80" y="424.30" width="3.34" height="61.10" fill="#6a6a6a" stroke="#000" stroke-width="0.75"/>
<rect x="514.14" y="419.20" width="3.34" height="66.20" fill="#6a6a6a" stroke="#000" stroke-width="0.75"/>
<rect x="517.48" y="415.30" width="3.34" height="70.10" fill="#6a6a6a" stroke="#000" stroke-width="0.75"/>
<rect x="520.82" y="410.70" width="3.34" height="74.70" fill="#6a6a6a" stroke="#000" stroke-width="0.75"/>
<rect x="524.16" y="403.50" width="3.34" height="81.90" fill="#6a6a6a" stroke="#000" stroke-width="0.75"/>
<rect x="527.50" y="398.60" width="3.34" height="86.80" fill="#6a6a6a" stroke="#000" stroke-width="0.75"/>
<rect x="530.84" y="399.50" width="3.34" height="85.90" fill="#6a6a6a" stroke="#000" stroke-width="0.75"/>
<rect x="534.18" y="407.40" width="3.34" height="78.00" fill="#6a6a6a" stroke="#000" stroke-width="0.75"/>
<line x1="479.07" y1="416.70" x2="479.07" y2="419.90" stroke="#111" stroke-width="0.8"/>
<line x1="478.17" y1="416.70" x2="479.97" y2="416.70" stroke="#111" stroke-width="0.7"/>
<line x1="482.41" y1="426.60" x2="482.41" y2="429.80" stroke="#111" stroke-width="0.8"/>
<line x1="481.51" y1="426.60" x2="483.31" y2="426.60" stroke="#111" stroke-width="0.7"/>
<line x1="485.75" y1="432.00" x2="485.75" y2="435.20" stroke="#111" stroke-width="0.8"/>
<line x1="484.85" y1="432.00" x2="486.65" y2="432.00" stroke="#111" stroke-width="0.7"/>
<line x1="489.09" y1="435.70" x2="489.09" y2="438.90" stroke="#111" stroke-width="0.8"/>
<line x1="488.19" y1="435.70" x2="489.99" y2="435.70" stroke="#111" stroke-width="0.7"/>
<line x1="492.43" y1="437.60" x2="492.43" y2="440.80" stroke="#111" stroke-width="0.8"/>
<line x1="491.53" y1="437.60" x2="493.33" y2="437.60" stroke="#111" stroke-width="0.7"/>
<line x1="495.77" y1="438.10" x2="495.77" y2="441.30" stroke="#111" stroke-width="0.8"/>
<line x1="494.87" y1="438.10" x2="496.67" y2="438.10" stroke="#111" stroke-width="0.7"/>
<line x1="499.11" y1="436.60" x2="499.11" y2="439.80" stroke="#111" stroke-width="0.8"/>
<line x1="498.21" y1="436.60" x2="500.01" y2="436.60" stroke="#111" stroke-width="0.7"/>
<line x1="502.45" y1="435.70" x2="502.45" y2="438.90" stroke="#111" stroke-width="0.8"/>
<line x1="501.55" y1="435.70" x2="503.35" y2="435.70" stroke="#111" stroke-width="0.7"/>
<line x1="505.79" y1="432.80" x2="505.79" y2="436.00" stroke="#111" stroke-width="0.8"/>
<line x1="504.89" y1="432.80" x2="506.69" y2="432.80" stroke="#111" stroke-width="0.7"/>
<line x1="509.13" y1="428.50" x2="509.13" y2="431.70" stroke="#111" stroke-width="0.8"/>
<line x1="508.23" y1="428.50" x2="510.03" y2="428.50" stroke="#111" stroke-width="0.7"/>
<line x1="512.47" y1="422.70" x2="512.47" y2="425.90" stroke="#111" stroke-width="0.8"/>
<line x1="511.57" y1="422.70" x2="513.37" y2="422.70" stroke="#111" stroke-width="0.7"/>
<line x1="515.81" y1="417.60" x2="515.81" y2="420.80" stroke="#111" stroke-width="0.8"/>
<line x1="514.91" y1="417.60" x2="516.71" y2="417.60" stroke="#111" stroke-width="0.7"/>
<line x1="519.15" y1="413.70" x2="519.15" y2="416.90" stroke="#111" stroke-width="0.8"/>
<line x1="518.25" y1="413.70" x2="520.05" y2="413.70" stroke="#111" stroke-width="0.7"/>
<line x1="522.49" y1="409.10" x2="522.49" y2="412.30" stroke="#111" stroke-width="0.8"/>
<line x1="521.59" y1="409.10" x2="523.39" y2="409.10" stroke="#111" stroke-width="0.7"/>
<line x1="525.83" y1="401.90" x2="525.83" y2="405.10" stroke="#111" stroke-width="0.8"/>
<line x1="524.93" y1="401.90" x2="526.73" y2="401.90" stroke="#111" stroke-width="0.7"/>
<line x1="529.17" y1="397.00" x2="529.17" y2="400.20" stroke="#111" stroke-width="0.8"/>
<line x1="528.27" y1="397.00" x2="530.07" y2="397.00" stroke="#111" stroke-width="0.7"/>
<line x1="532.51" y1="397.90" x2="532.51" y2="401.10" stroke="#111" stroke-width="0.8"/>
<line x1="531.61" y1="397.90" x2="533.41" y2="397.90" stroke="#111" stroke-width="0.7"/>
<line x1="535.85" y1="405.80" x2="535.85" y2="409.00" stroke="#111" stroke-width="0.8"/>
<line x1="534.95" y1="405.80" x2="536.75" y2="405.80" stroke="#111" stroke-width="0.7"/>
<line x1="401.20" y1="367.20" x2="401.20" y2="485.50" stroke="#333" stroke-width="0.9"/>
<line x1="400.80" y1="485.50" x2="464.80" y2="485.50" stroke="#333" stroke-width="0.9"/>
<line x1="474.80" y1="485.50" x2="538.80" y2="485.50" stroke="#333" stroke-width="0.9"/>
<line x1="401.20" y1="367.70" x2="403.20" y2="367.70" stroke="#333" stroke-width="0.7"/>
<text x="374.10" y="371.20" font-size="10.3" textLength="24.23" lengthAdjust="spacingAndGlyphs" fill="#000">0.065</text>
<line x1="401.20" y1="397.10" x2="403.20" y2="397.10" stroke="#333" stroke-width="0.7"/>
<text x="376.80" y="400.60" font-size="10.3" textLength="18.84" lengthAdjust="spacingAndGlyphs" fill="#000">0.06</text>
<line x1="401.20" y1="426.50" x2="403.20" y2="426.50" stroke="#333" stroke-width="0.7"/>
<text x="374.10" y="430.00" font-size="10.3" textLength="24.23" lengthAdjust="spacingAndGlyphs" fill="#000">0.055</text>
<line x1="401.20" y1="455.90" x2="403.20" y2="455.90" stroke="#333" stroke-width="0.7"/>
<text x="376.79" y="459.40" font-size="10.3" textLength="18.84" lengthAdjust="spacingAndGlyphs" fill="#000">0.05</text>
<line x1="401.20" y1="485.30" x2="403.20" y2="485.30" stroke="#333" stroke-width="0.7"/>
<text x="374.10" y="488.80" font-size="10.3" textLength="24.23" lengthAdjust="spacingAndGlyphs" fill="#000">0.045</text>
<text transform="rotate(-90)" x="-475.42" y="368.30" font-size="10" textLength="95.64" lengthAdjust="spacingAndGlyphs" fill="#000">Amplitude probability</text>
<text x="400.58" y="495.60" font-size="10.3" textLength="5.44" lengthAdjust="spacingAndGlyphs" fill="#000">0</text>
<text x="419.86" y="495.60" font-size="10.3" textLength="16.33" lengthAdjust="spacingAndGlyphs" fill="#000">150</text>
<text x="445.04" y="495.60" font-size="10.3" textLength="16.33" lengthAdjust="spacingAndGlyphs" fill="#000">300</text>
<text x="474.78" y="495.60" font-size="10.3" textLength="5.44" lengthAdjust="spacingAndGlyphs" fill="#000">0</text>
<text x="493.46" y="495.60" font-size="10.3" textLength="16.33" lengthAdjust="spacingAndGlyphs" fill="#000">150</text>
<text x="518.24" y="495.60" font-size="10.3" textLength="16.33" lengthAdjust="spacingAndGlyphs" fill="#000">300</text>
<text x="438.93" y="506.20" font-size="10" textLength="64.75" lengthAdjust="spacingAndGlyphs" fill="#000">Phase angle (°)</text>
<rect x="403.50" y="379.00" width="5.40" height="5.40" fill="#9e3822" stroke="#222" stroke-width="0.7"/>
<text x="408.75" y="385.20" font-size="10" textLength="50.60" lengthAdjust="spacingAndGlyphs" fill="#000">KO in EMX1</text>
<rect x="476.60" y="379.00" width="5.40" height="5.40" fill="#6a6a6a" stroke="#222" stroke-width="0.7"/>
<text x="482.96" y="385.20" font-size="10" textLength="14.76" lengthAdjust="spacingAndGlyphs" fill="#000">WT</text>
<text x="356.86" y="350.40" font-size="10" textLength="5.81" lengthAdjust="spacingAndGlyphs" fill="#000">e</text>
<polygon points="230.2,419.8 235.4,415.5 240.5,410.4 245.7,404.2 250.8,398.7 256.0,395.7 261.2,395.3 266.3,394.9 271.5,393.5 276.6,393.1 281.8,396.8 287.0,404.2 292.1,408.6 297.3,414.5 302.4,418.2 307.6,421.6 312.8,420.4 317.9,419.2 317.9,449.9 312.8,451.4 307.6,449.9 302.4,444.0 297.3,435.9 292.1,429.2 287.0,421.9 281.8,417.4 276.6,415.2 271.5,417.3 266.3,418.7 261.2,418.0 256.0,417.7 250.8,420.0 245.7,423.5 240.5,429.6 235.4,437.5 230.2,443.5" fill="#d9d9d9"/>
<line x1="227.80" y1="418.40" x2="320.70" y2="418.40" stroke="#222" stroke-width="1.0"/>
<polyline points="230.2,431.7 235.4,426.9 240.5,421.0 245.7,414.5 250.8,409.7 256.0,406.6 261.2,407.3 266.3,408.1 271.5,405.7 276.6,403.4 281.8,406.8 287.0,413.0 292.1,417.7 297.3,423.6 302.4,431.0 307.6,436.3 312.8,435.4 317.9,434.4" fill="none" stroke="#222" stroke-width="0.8"/>
<circle cx="230.2" cy="431.7" r="0.7" fill="#222"/>
<circle cx="235.4" cy="426.9" r="0.7" fill="#222"/>
<circle cx="240.5" cy="421.0" r="0.7" fill="#222"/>
<circle cx="245.7" cy="414.5" r="0.7" fill="#222"/>
<circle cx="250.8" cy="409.7" r="0.7" fill="#222"/>
<circle cx="256.0" cy="406.6" r="0.7" fill="#222"/>
<circle cx="261.2" cy="407.3" r="0.7" fill="#222"/>
<circle cx="266.3" cy="408.1" r="0.7" fill="#222"/>
<circle cx="271.5" cy="405.7" r="0.7" fill="#222"/>
<circle cx="276.6" cy="403.4" r="0.7" fill="#222"/>
<circle cx="281.8" cy="406.8" r="0.7" fill="#222"/>
<circle cx="287.0" cy="413.0" r="0.7" fill="#222"/>
<circle cx="292.1" cy="417.7" r="0.7" fill="#222"/>
<circle cx="297.3" cy="423.6" r="0.7" fill="#222"/>
<circle cx="302.4" cy="431.0" r="0.7" fill="#222"/>
<circle cx="307.6" cy="436.3" r="0.7" fill="#222"/>
<circle cx="312.8" cy="435.4" r="0.7" fill="#222"/>
<circle cx="317.9" cy="434.4" r="0.7" fill="#222"/>
<text x="256.0" y="471.5" font-size="7" fill="#ff8080" text-anchor="middle">*</text>
<text x="261.2" y="471.5" font-size="7" fill="#ff8080" text-anchor="middle">*</text>
<text x="271.5" y="471.5" font-size="7" fill="#ff8080" text-anchor="middle">*</text>
<text x="276.6" y="471.5" font-size="7" fill="#ff8080" text-anchor="middle">*</text>
<text x="281.8" y="471.5" font-size="7" fill="#ff8080" text-anchor="middle">*</text>
<text x="302.4" y="471.5" font-size="7" fill="#ff8080" text-anchor="middle">*</text>
<text x="307.6" y="471.5" font-size="7" fill="#ff8080" text-anchor="middle">*</text>
<text x="312.8" y="471.5" font-size="7" fill="#ff8080" text-anchor="middle">*</text>
<text x="317.9" y="471.5" font-size="7" fill="#ff8080" text-anchor="middle">*</text>
<line x1="227.80" y1="365.50" x2="227.80" y2="484.00" stroke="#222" stroke-width="0.9"/>
<line x1="227.40" y1="484.00" x2="320.70" y2="484.00" stroke="#222" stroke-width="0.9"/>
<line x1="227.80" y1="365.60" x2="229.80" y2="365.60" stroke="#333" stroke-width="0.7"/>
<text x="220.04" y="369.20" font-size="10.3" textLength="5.56" lengthAdjust="spacingAndGlyphs" fill="#000">4</text>
<line x1="227.80" y1="392.00" x2="229.80" y2="392.00" stroke="#333" stroke-width="0.7"/>
<text x="220.25" y="395.60" font-size="10.3" textLength="5.56" lengthAdjust="spacingAndGlyphs" fill="#000">2</text>
<line x1="227.80" y1="418.40" x2="229.80" y2="418.40" stroke="#333" stroke-width="0.7"/>
<text x="220.13" y="422.00" font-size="10.3" textLength="5.56" lengthAdjust="spacingAndGlyphs" fill="#000">0</text>
<line x1="227.80" y1="444.80" x2="229.80" y2="444.80" stroke="#333" stroke-width="0.7"/>
<text x="216.92" y="448.40" font-size="10.3" textLength="8.88" lengthAdjust="spacingAndGlyphs" fill="#000">-2</text>
<line x1="227.80" y1="471.20" x2="229.80" y2="471.20" stroke="#333" stroke-width="0.7"/>
<text x="216.71" y="474.80" font-size="10.3" textLength="8.88" lengthAdjust="spacingAndGlyphs" fill="#000">-4</text>
<text x="226.12" y="494.00" font-size="10.3" textLength="5.56" lengthAdjust="spacingAndGlyphs" fill="#000">0</text>
<text x="250.08" y="494.00" font-size="10.3" textLength="16.67" lengthAdjust="spacingAndGlyphs" fill="#000">120</text>
<text x="280.01" y="494.00" font-size="10.3" textLength="16.67" lengthAdjust="spacingAndGlyphs" fill="#000">240</text>
<text x="310.07" y="494.00" font-size="10.3" textLength="16.67" lengthAdjust="spacingAndGlyphs" fill="#000">360</text>
<text transform="rotate(-90)" x="-479.32" y="213.20" font-size="10" textLength="105.76" lengthAdjust="spacingAndGlyphs" fill="#000">Bootstrapped difference</text>
<line x1="258.60" y1="484.00" x2="258.60" y2="482.00" stroke="#222" stroke-width="0.8"/>
<line x1="289.30" y1="484.00" x2="289.30" y2="482.00" stroke="#222" stroke-width="0.8"/>
<line x1="320.00" y1="484.00" x2="320.00" y2="482.00" stroke="#222" stroke-width="0.8"/>
<text x="238.03" y="505.50" font-size="10" textLength="64.85" lengthAdjust="spacingAndGlyphs" fill="#000">Phase angle (°)</text>
<text x="249.47" y="383.30" font-size="10" textLength="34.53" lengthAdjust="spacingAndGlyphs" fill="#000">KO - WT</text>
<path d="M230.20 359.20L235.60 363.90M230.20 363.90L235.60 359.20" stroke="#111" stroke-width="0.75" fill="none"/>
<text x="238.19" y="364.00" font-size="9.8" textLength="10.37" lengthAdjust="spacingAndGlyphs" fill="#000">10</text>
<line x1="250.30" y1="357.30" x2="253.20" y2="357.30" stroke="#111" stroke-width="0.8"/>
<text x="253.15" y="360.50" font-size="9.6" textLength="5.16" lengthAdjust="spacingAndGlyphs" fill="#000">3</text>
<text x="202.09" y="350.20" font-size="10" textLength="6.80" lengthAdjust="spacingAndGlyphs" fill="#000">d</text>
<polygon points="584.4,405.9 589.5,400.1 594.7,399.7 599.8,394.9 604.9,392.6 610.0,388.6 615.2,386.6 620.3,386.4 625.4,388.7 630.6,391.5 635.7,395.9 640.8,402.1 646.0,408.3 651.1,414.5 656.2,417.5 661.4,419.8 666.5,418.1 671.6,411.5 671.6,452.6 666.5,459.6 661.4,457.0 656.2,445.5 651.1,433.1 646.0,429.6 640.8,426.0 635.7,421.6 630.6,418.6 625.4,417.5 620.3,416.5 615.2,416.5 610.0,417.7 604.9,421.7 599.8,423.2 594.7,427.2 589.5,435.8 584.4,440.5" fill="#d9d9d9"/>
<line x1="582.40" y1="416.20" x2="674.40" y2="416.20" stroke="#222" stroke-width="1.0"/>
<polyline points="584.4,423.2 589.5,418.2 594.7,413.5 599.8,408.3 604.9,406.7 610.0,402.5 615.2,400.4 620.3,400.4 625.4,403.8 630.6,404.8 635.7,406.9 640.8,412.7 646.0,417.7 651.1,425.1 656.2,433.1 661.4,439.6 666.5,438.1 671.6,431.0" fill="none" stroke="#222" stroke-width="0.8"/>
<circle cx="584.4" cy="423.2" r="0.7" fill="#222"/>
<circle cx="589.5" cy="418.2" r="0.7" fill="#222"/>
<circle cx="594.7" cy="413.5" r="0.7" fill="#222"/>
<circle cx="599.8" cy="408.3" r="0.7" fill="#222"/>
<circle cx="604.9" cy="406.7" r="0.7" fill="#222"/>
<circle cx="610.0" cy="402.5" r="0.7" fill="#222"/>
<circle cx="615.2" cy="400.4" r="0.7" fill="#222"/>
<circle cx="620.3" cy="400.4" r="0.7" fill="#222"/>
<circle cx="625.4" cy="403.8" r="0.7" fill="#222"/>
<circle cx="630.6" cy="404.8" r="0.7" fill="#222"/>
<circle cx="635.7" cy="406.9" r="0.7" fill="#222"/>
<circle cx="640.8" cy="412.7" r="0.7" fill="#222"/>
<circle cx="646.0" cy="417.7" r="0.7" fill="#222"/>
<circle cx="651.1" cy="425.1" r="0.7" fill="#222"/>
<circle cx="656.2" cy="433.1" r="0.7" fill="#222"/>
<circle cx="661.4" cy="439.6" r="0.7" fill="#222"/>
<circle cx="666.5" cy="438.1" r="0.7" fill="#222"/>
<circle cx="671.6" cy="431.0" r="0.7" fill="#222"/>
<text x="620.3" y="472.6" font-size="7" fill="#ff8080" text-anchor="middle">*</text>
<text x="656.2" y="472.6" font-size="7" fill="#ff8080" text-anchor="middle">*</text>
<text x="661.4" y="472.6" font-size="7" fill="#ff8080" text-anchor="middle">*</text>
<text x="666.5" y="472.6" font-size="7" fill="#ff8080" text-anchor="middle">*</text>
<line x1="582.40" y1="367.30" x2="582.40" y2="485.00" stroke="#222" stroke-width="0.9"/>
<line x1="582.00" y1="485.00" x2="674.40" y2="485.00" stroke="#222" stroke-width="0.9"/>
<line x1="582.40" y1="376.90" x2="584.40" y2="376.90" stroke="#333" stroke-width="0.7"/>
<text x="573.94" y="380.50" font-size="10.3" textLength="5.56" lengthAdjust="spacingAndGlyphs" fill="#000">4</text>
<line x1="582.40" y1="396.60" x2="584.40" y2="396.60" stroke="#333" stroke-width="0.7"/>
<text x="574.15" y="400.20" font-size="10.3" textLength="5.56" lengthAdjust="spacingAndGlyphs" fill="#000">2</text>
<line x1="582.40" y1="416.20" x2="584.40" y2="416.20" stroke="#333" stroke-width="0.7"/>
<text x="574.03" y="419.80" font-size="10.3" textLength="5.56" lengthAdjust="spacingAndGlyphs" fill="#000">0</text>
<line x1="582.40" y1="435.90" x2="584.40" y2="435.90" stroke="#333" stroke-width="0.7"/>
<text x="570.82" y="439.50" font-size="10.3" textLength="8.88" lengthAdjust="spacingAndGlyphs" fill="#000">-2</text>
<line x1="582.40" y1="455.60" x2="584.40" y2="455.60" stroke="#333" stroke-width="0.7"/>
<text x="570.61" y="459.20" font-size="10.3" textLength="8.88" lengthAdjust="spacingAndGlyphs" fill="#000">-4</text>
<line x1="582.40" y1="475.30" x2="584.40" y2="475.30" stroke="#333" stroke-width="0.7"/>
<text x="570.76" y="478.90" font-size="10.3" textLength="8.88" lengthAdjust="spacingAndGlyphs" fill="#000">-6</text>
<text x="581.12" y="495.00" font-size="10.3" textLength="5.56" lengthAdjust="spacingAndGlyphs" fill="#000">0</text>
<text x="604.48" y="495.00" font-size="10.3" textLength="16.67" lengthAdjust="spacingAndGlyphs" fill="#000">120</text>
<text x="634.61" y="495.00" font-size="10.3" textLength="16.67" lengthAdjust="spacingAndGlyphs" fill="#000">240</text>
<text x="664.47" y="495.00" font-size="10.3" textLength="16.67" lengthAdjust="spacingAndGlyphs" fill="#000">360</text>
<text transform="rotate(-90)" x="-480.52" y="569.00" font-size="10" textLength="105.66" lengthAdjust="spacingAndGlyphs" fill="#000">Bootstrapped difference</text>
<line x1="612.90" y1="485.00" x2="612.90" y2="483.00" stroke="#222" stroke-width="0.8"/>
<line x1="643.40" y1="485.00" x2="643.40" y2="483.00" stroke="#222" stroke-width="0.8"/>
<line x1="674.00" y1="485.00" x2="674.00" y2="483.00" stroke="#222" stroke-width="0.8"/>
<text x="594.93" y="505.80" font-size="10" textLength="64.96" lengthAdjust="spacingAndGlyphs" fill="#000">Phase angle (°)</text>
<text x="591.25" y="380.60" font-size="10" textLength="73.07" lengthAdjust="spacingAndGlyphs" fill="#000">KO in EMX1 - WT</text>
<path d="M584.50 360.30L589.60 364.20M584.50 364.20L589.60 360.30" stroke="#111" stroke-width="0.75" fill="none"/>
<text x="590.96" y="364.60" font-size="9.8" textLength="10.82" lengthAdjust="spacingAndGlyphs" fill="#000">10</text>
<line x1="604.00" y1="358.90" x2="606.30" y2="358.90" stroke="#111" stroke-width="0.8"/>
<text x="606.55" y="361.40" font-size="9.6" textLength="5.16" lengthAdjust="spacingAndGlyphs" fill="#000">3</text>
<text x="558.65" y="351.10" font-size="10" textLength="2.93" lengthAdjust="spacingAndGlyphs" fill="#000">f</text></svg></body></html>
